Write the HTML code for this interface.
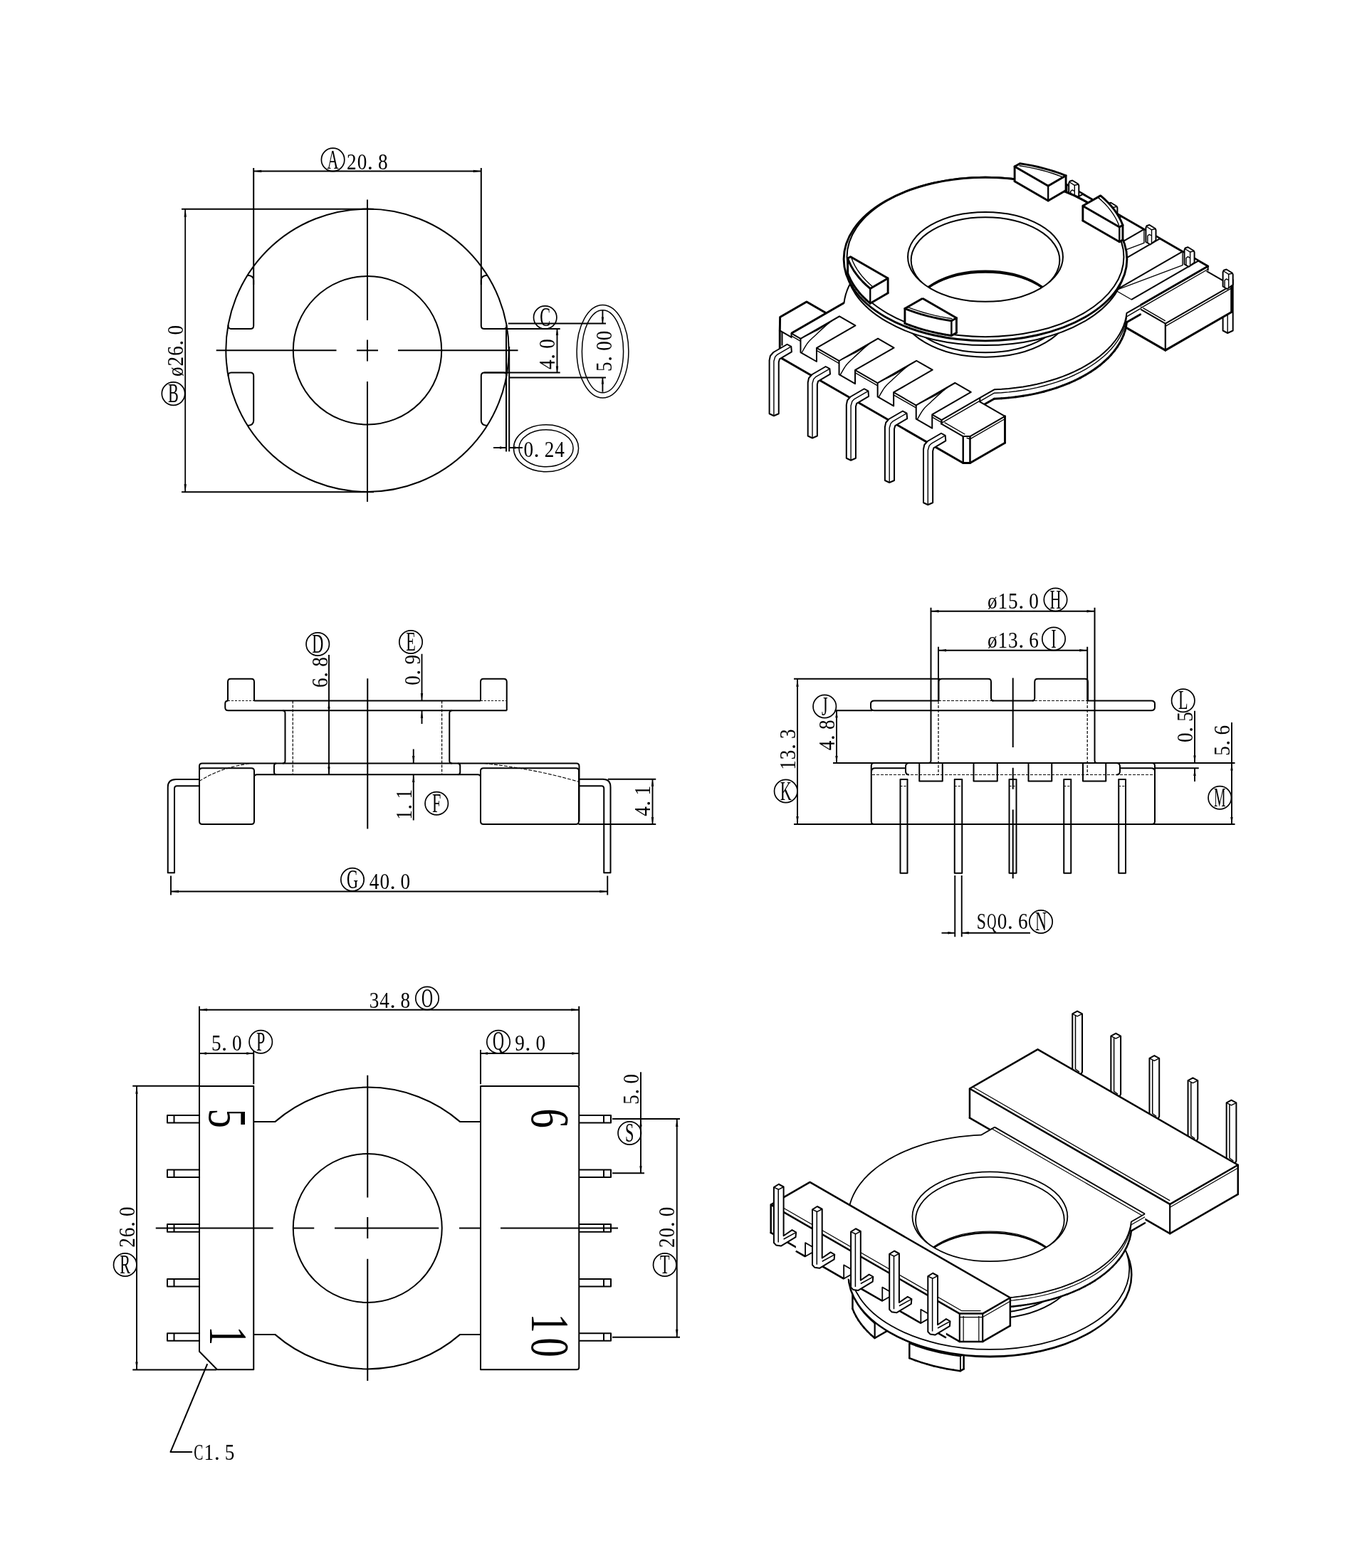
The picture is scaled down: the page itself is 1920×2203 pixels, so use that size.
<!DOCTYPE html>
<html lang="en"><head><meta charset="utf-8"><title>Bobbin drawing</title>
<style>
html,body{margin:0;padding:0;background:#fff}
body{width:1920px;height:2203px;overflow:hidden}
svg{display:block;filter:grayscale(1)}
svg *{vector-effect:none}
.g{fill:none;stroke:#000;stroke-linejoin:round;stroke-linecap:butt}
.t{font-family:"Liberation Serif",serif;fill:#000;stroke:none}
</style></head><body>
<svg width="1920" height="2203" viewBox="0 0 1920 2203">
<rect x="0" y="0" width="1920" height="2203" fill="#fff"/>
<g class="g">
<circle cx="516" cy="492.3" r="198.7" stroke-width="2.0"/>
<circle cx="516" cy="492.3" r="104.2" stroke-width="2.0"/>
<line x1="516" y1="280.5" x2="516" y2="450" stroke-width="2.0"/>
<line x1="516" y1="477.5" x2="516" y2="507.5" stroke-width="2.0"/>
<line x1="516" y1="536" x2="516" y2="705" stroke-width="2.0"/>
<line x1="303.7" y1="492.3" x2="472.5" y2="492.3" stroke-width="2.0"/>
<line x1="501" y1="492.3" x2="531" y2="492.3" stroke-width="2.0"/>
<line x1="559" y1="492.3" x2="727.5" y2="492.3" stroke-width="2.0"/>
<path d="M711.52 456.9 Q711.86 461.9 707.36 461.9 L680.3 461.9 Q675.8 461.9 675.8 457.4 L675.8 393.67 Q675.8 387.17 684.3 386.67" stroke-width="2.0"/>
<path d="M711.39 528.4 Q711.75 523.4 707.25 523.4 L680.3 523.4 Q675.8 523.4 675.8 527.9 L675.8 590.93 Q675.8 597.43 684.3 597.93" stroke-width="2.0"/>
<path d="M320.48 456.9 Q320.14 461.9 324.64 461.9 L351.7 461.9 Q356.2 461.9 356.2 457.4 L356.2 393.67 Q356.2 387.17 347.7 386.67" stroke-width="2.0"/>
<path d="M320.61 528.4 Q320.25 523.4 324.75 523.4 L351.7 523.4 Q356.2 523.4 356.2 527.9 L356.2 590.93 Q356.2 597.43 347.7 597.93" stroke-width="2.0"/>
<line x1="356.2" y1="236" x2="356.2" y2="400" stroke-width="2.0"/>
<line x1="675.8" y1="236" x2="675.8" y2="400" stroke-width="2.0"/>
<line x1="356.2" y1="240.5" x2="675.8" y2="240.5" stroke-width="1.9"/>
<polygon points="356.2,240.5 367.2,238.8 367.2,242.2" fill="#000" stroke="none"/>
<polygon points="675.8,240.5 664.8,242.2 664.8,238.8" fill="#000" stroke="none"/>
<circle cx="467.6" cy="224.4" r="16.2" stroke-width="1.7"/>
<text transform="translate(467.6 224.4) scale(0.6 1)" x="0" y="12.21" font-size="37" text-anchor="middle" class="t">A</text>
<text transform="translate(486.6 237.6)" y="0" font-size="32.5" class="t"><tspan x="0.5" textLength="13.6" lengthAdjust="spacingAndGlyphs">2</tspan><tspan x="15.1" textLength="13.6" lengthAdjust="spacingAndGlyphs">0</tspan><tspan x="29.2">.</tspan><tspan x="44.3" textLength="13.6" lengthAdjust="spacingAndGlyphs">8</tspan></text>
<line x1="255" y1="293.7" x2="525" y2="293.7" stroke-width="2.0"/>
<line x1="255" y1="691.2" x2="525" y2="691.2" stroke-width="2.0"/>
<line x1="260.2" y1="293.7" x2="260.2" y2="691.2" stroke-width="1.8"/>
<polygon points="260.2,293.7 261.9,304.7 258.5,304.7" fill="#000" stroke="none"/>
<polygon points="260.2,691.2 258.5,680.2 261.9,680.2" fill="#000" stroke="none"/>
<text transform="translate(257.2 529.5) rotate(-90)" y="0" font-size="32.5" class="t"><tspan x="0.5" textLength="13.6" lengthAdjust="spacingAndGlyphs">ø</tspan><tspan x="15.1" textLength="13.6" lengthAdjust="spacingAndGlyphs">2</tspan><tspan x="29.7" textLength="13.6" lengthAdjust="spacingAndGlyphs">6</tspan><tspan x="43.8">.</tspan><tspan x="58.9" textLength="13.6" lengthAdjust="spacingAndGlyphs">0</tspan></text>
<circle cx="243.5" cy="553.1" r="16.2" stroke-width="1.7"/>
<text transform="translate(243.5 553.1) scale(0.6 1)" x="0" y="12.21" font-size="37" text-anchor="middle" class="t">B</text>
<line x1="713.8" y1="454.4" x2="851" y2="454.4" stroke-width="2.0"/>
<line x1="715.5" y1="530.6" x2="851" y2="530.6" stroke-width="2.0"/>
<line x1="680" y1="461.9" x2="786.7" y2="461.9" stroke-width="2.0"/>
<line x1="680" y1="523.5" x2="786.7" y2="523.5" stroke-width="2.0"/>
<line x1="711" y1="461.9" x2="711" y2="634.4" stroke-width="2.0"/>
<line x1="715.2" y1="487" x2="715.2" y2="634.4" stroke-width="2.0"/>
<line x1="782.5" y1="461.9" x2="782.5" y2="523.5" stroke-width="1.9"/>
<polygon points="782.5,461.9 784.2,470.9 780.8,470.9" fill="#000" stroke="none"/>
<polygon points="782.5,523.5 780.8,514.5 784.2,514.5" fill="#000" stroke="none"/>
<text transform="translate(779.3 519.5) rotate(-90)" y="0" font-size="32.5" class="t"><tspan x="0.5" textLength="13.6" lengthAdjust="spacingAndGlyphs">4</tspan><tspan x="14.6">.</tspan><tspan x="29.7" textLength="13.6" lengthAdjust="spacingAndGlyphs">0</tspan></text>
<circle cx="765.7" cy="446" r="16.2" stroke-width="1.7"/>
<text transform="translate(765.7 446) scale(0.6 1)" x="0" y="12.21" font-size="37" text-anchor="middle" class="t">C</text>
<ellipse cx="846.5" cy="493.7" rx="36.4" ry="65.3" stroke-width="1.5"/>
<ellipse cx="846.5" cy="493.7" rx="29.1" ry="58" stroke-width="1.5"/>
<line x1="846.4" y1="436" x2="846.4" y2="454.4" stroke-width="1.9"/>
<line x1="846.4" y1="530.6" x2="846.4" y2="550.7" stroke-width="1.9"/>
<polygon points="846.4,454.4 844.7,445.4 848.1,445.4" fill="#000" stroke="none"/>
<polygon points="846.4,530.6 848.1,539.6 844.7,539.6" fill="#000" stroke="none"/>
<text transform="translate(858.6 522.5) rotate(-90)" y="0" font-size="32.5" class="t"><tspan x="0.5" textLength="13.6" lengthAdjust="spacingAndGlyphs">5</tspan><tspan x="14.6">.</tspan><tspan x="29.7" textLength="13.6" lengthAdjust="spacingAndGlyphs">0</tspan><tspan x="44.3" textLength="13.6" lengthAdjust="spacingAndGlyphs">0</tspan></text>
<ellipse cx="767" cy="629.8" rx="45.6" ry="33" stroke-width="1.5"/>
<ellipse cx="767" cy="629.8" rx="38.1" ry="26" stroke-width="1.5"/>
<line x1="693" y1="629" x2="711" y2="629" stroke-width="1.9"/>
<line x1="715.2" y1="629" x2="734" y2="629" stroke-width="1.9"/>
<polygon points="711,629 702,630.7 702,627.3" fill="#000" stroke="none"/>
<polygon points="715.2,629 724.2,627.3 724.2,630.7" fill="#000" stroke="none"/>
<text transform="translate(735 641.5)" y="0" font-size="32.5" class="t"><tspan x="0.5" textLength="13.6" lengthAdjust="spacingAndGlyphs">0</tspan><tspan x="14.6">.</tspan><tspan x="29.7" textLength="13.6" lengthAdjust="spacingAndGlyphs">2</tspan><tspan x="44.3" textLength="13.6" lengthAdjust="spacingAndGlyphs">4</tspan></text>
<path d="M320 984.5 L320 958 Q320 953.75 324 953.75 L353 953.75 Q357 953.75 357 958 L357 984.5" stroke-width="2.0"/>
<path d="M675 984.5 L675 958 Q675 953.75 679 953.75 L707.5 953.75 Q711.75 953.75 711.75 958 L711.75 998.25" stroke-width="2.0"/>
<line x1="320" y1="984.5" x2="357" y2="984.5" stroke-width="1.2" stroke-dasharray="3 2"/>
<line x1="675" y1="984.5" x2="711.75" y2="984.5" stroke-width="1.2" stroke-dasharray="3 2"/>
<line x1="357" y1="984.5" x2="675" y2="984.5" stroke-width="2.0"/>
<path d="M320.5 984.5 Q316.25 984.5 316.25 988.5 L316.25 994 Q316.25 998.25 320.5 998.25 L711.75 998.25" stroke-width="2.0"/>
<path d="M397 998.25 Q400.5 998.25 400.5 1002 L400.5 1069 Q400.5 1072.5 397 1072.5" stroke-width="2.0"/>
<path d="M635 998.25 Q631.25 998.25 631.25 1002 L631.25 1069 Q631.25 1072.5 635 1072.5" stroke-width="2.0"/>
<line x1="411.25" y1="984.5" x2="411.25" y2="1088.25" stroke-width="1.2" stroke-dasharray="4 2"/>
<line x1="620.6" y1="984.5" x2="620.6" y2="1088.25" stroke-width="1.2" stroke-dasharray="4 2"/>
<path d="M280 1082 L280 1076.5 Q280 1072.5 284 1072.5 L809.5 1072.5 Q813.5 1072.5 813.5 1076.5 L813.5 1154" stroke-width="2.0"/>
<path d="M388 1072.5 Q385 1072.5 385 1076 L385 1085 Q385 1088.25 388 1088.25" stroke-width="2.0"/>
<path d="M643 1072.5 Q646.25 1072.5 646.25 1076 L646.25 1085 Q646.25 1088.25 643 1088.25" stroke-width="2.0"/>
<path d="M357 1092 Q357 1088.25 361 1088.25 L671 1088.25 Q675 1088.25 675 1092" stroke-width="2.0"/>
<path d="M280 1083 Q280 1079.25 284 1079.25 L353 1079.25 Q357 1079.25 357 1083 L357 1154 Q357 1158 353 1158 L284 1158 Q280 1158 280 1154 Z" stroke-width="2.0"/>
<path d="M675 1083 Q675 1079.25 679 1079.25 L809 1079.25 Q813 1079.25 813 1083 L813 1154 Q813 1158 809 1158 L679 1158 Q675 1158 675 1154 Z" stroke-width="2.0"/>
<path d="M280 1097.5 Q310 1078 352.5 1072.5" stroke-width="1.1" stroke-dasharray="5 2"/>
<path d="M680 1072.5 Q750 1080 812.5 1098.25" stroke-width="1.1" stroke-dasharray="5 2"/>
<path d="M280 1095 L247 1095 Q235.75 1095 235.75 1106 L235.75 1226.25 L245 1226.25 L245 1108 Q245 1104.25 248.5 1104.25 L280 1104.25" stroke-width="2.0"/>
<path d="M813.5 1094.75 L847 1094.75 Q857.5 1094.75 857.5 1106 L857.5 1226.25 L848.25 1226.25 L848.25 1108 Q848.25 1104.25 845 1104.25 L813.5 1104.25" stroke-width="2.0"/>
<line x1="516.25" y1="953.25" x2="516.25" y2="1164.5" stroke-width="2.0"/>
<line x1="462" y1="920" x2="462" y2="1088" stroke-width="1.9"/>
<polygon points="462,985.5 463.7,995.5 460.3,995.5" fill="#000" stroke="none"/>
<polygon points="462,1087.5 460.3,1077.5 463.7,1077.5" fill="#000" stroke="none"/>
<text transform="translate(459.5 966.5) rotate(-90)" y="0" font-size="32.5" class="t"><tspan x="0.5" textLength="13.6" lengthAdjust="spacingAndGlyphs">6</tspan><tspan x="14.6">.</tspan><tspan x="29.7" textLength="13.6" lengthAdjust="spacingAndGlyphs">8</tspan></text>
<circle cx="446.25" cy="905" r="16.2" stroke-width="1.7"/>
<text transform="translate(446.25 905) scale(0.6 1)" x="0" y="12.21" font-size="37" text-anchor="middle" class="t">D</text>
<line x1="592.5" y1="918.75" x2="592.5" y2="984" stroke-width="1.9"/>
<line x1="592.5" y1="999" x2="592.5" y2="1017" stroke-width="1.9"/>
<polygon points="592.5,984 590.8,974 594.2,974" fill="#000" stroke="none"/>
<polygon points="592.5,999 594.2,1009 590.8,1009" fill="#000" stroke="none"/>
<text transform="translate(590 963.3) rotate(-90)" y="0" font-size="32.5" class="t"><tspan x="0.5" textLength="13.6" lengthAdjust="spacingAndGlyphs">0</tspan><tspan x="14.6">.</tspan><tspan x="29.7" textLength="13.6" lengthAdjust="spacingAndGlyphs">9</tspan></text>
<circle cx="577" cy="902" r="16.2" stroke-width="1.7"/>
<text transform="translate(577 902) scale(0.6 1)" x="0" y="12.21" font-size="37" text-anchor="middle" class="t">E</text>
<line x1="580.75" y1="1052.5" x2="580.75" y2="1072" stroke-width="1.9"/>
<line x1="580.75" y1="1089" x2="580.75" y2="1152.5" stroke-width="1.9"/>
<polygon points="580.75,1072 579.05,1062 582.45,1062" fill="#000" stroke="none"/>
<polygon points="580.75,1089 582.45,1099 579.05,1099" fill="#000" stroke="none"/>
<text transform="translate(578.25 1152.3) rotate(-90)" y="0" font-size="32.5" class="t"><tspan x="0.5" textLength="13.6" lengthAdjust="spacingAndGlyphs">1</tspan><tspan x="14.6">.</tspan><tspan x="29.7" textLength="13.6" lengthAdjust="spacingAndGlyphs">1</tspan></text>
<circle cx="613.25" cy="1128.75" r="16.2" stroke-width="1.7"/>
<text transform="translate(613.25 1128.75) scale(0.6 1)" x="0" y="12.21" font-size="37" text-anchor="middle" class="t">F</text>
<line x1="853.75" y1="1094.75" x2="921.25" y2="1094.75" stroke-width="1.9"/>
<line x1="812.5" y1="1158" x2="921.25" y2="1158" stroke-width="1.9"/>
<line x1="916.5" y1="1094.75" x2="916.5" y2="1158" stroke-width="1.9"/>
<polygon points="916.5,1094.75 918.2,1104.75 914.8,1104.75" fill="#000" stroke="none"/>
<polygon points="916.5,1158 914.8,1148 918.2,1148" fill="#000" stroke="none"/>
<text transform="translate(913.25 1147.3) rotate(-90)" y="0" font-size="32.5" class="t"><tspan x="0.5" textLength="13.6" lengthAdjust="spacingAndGlyphs">4</tspan><tspan x="14.6">.</tspan><tspan x="29.7" textLength="13.6" lengthAdjust="spacingAndGlyphs">1</tspan></text>
<line x1="240" y1="1230.5" x2="240" y2="1257.5" stroke-width="1.9"/>
<line x1="853.25" y1="1230.5" x2="853.25" y2="1257.5" stroke-width="1.9"/>
<line x1="240" y1="1252.5" x2="853.25" y2="1252.5" stroke-width="1.9"/>
<polygon points="240,1252.5 251,1250.8 251,1254.2" fill="#000" stroke="none"/>
<polygon points="853.25,1252.5 842.25,1254.2 842.25,1250.8" fill="#000" stroke="none"/>
<circle cx="495" cy="1235.75" r="16.2" stroke-width="1.7"/>
<text transform="translate(495 1235.75) scale(0.6 1)" x="0" y="12.21" font-size="37" text-anchor="middle" class="t">G</text>
<text transform="translate(518.3 1249.25)" y="0" font-size="32.5" class="t"><tspan x="0.5" textLength="13.6" lengthAdjust="spacingAndGlyphs">4</tspan><tspan x="15.1" textLength="13.6" lengthAdjust="spacingAndGlyphs">0</tspan><tspan x="29.2">.</tspan><tspan x="44.3" textLength="13.6" lengthAdjust="spacingAndGlyphs">0</tspan></text>
<path d="M1307.5 853.75 L1307.5 1068.5 Q1307.5 1072 1304 1072" stroke-width="2.0"/>
<path d="M1537.5 853.75 L1537.5 1068.5 Q1537.5 1072 1541 1072" stroke-width="2.0"/>
<line x1="1318" y1="908.75" x2="1318" y2="985" stroke-width="2.0"/>
<line x1="1527.2" y1="908.75" x2="1527.2" y2="985" stroke-width="2.0"/>
<line x1="1318" y1="985" x2="1318" y2="1088.5" stroke-width="1.2" stroke-dasharray="4 2"/>
<line x1="1527.2" y1="985" x2="1527.2" y2="1088.5" stroke-width="1.2" stroke-dasharray="4 2"/>
<line x1="1307.5" y1="858.75" x2="1537.5" y2="858.75" stroke-width="1.9"/>
<polygon points="1307.5,858.75 1318.5,857.05 1318.5,860.45" fill="#000" stroke="none"/>
<polygon points="1537.5,858.75 1526.5,860.45 1526.5,857.05" fill="#000" stroke="none"/>
<text transform="translate(1386.4 855)" y="0" font-size="32.5" class="t"><tspan x="0.5" textLength="13.6" lengthAdjust="spacingAndGlyphs">ø</tspan><tspan x="15.1" textLength="13.6" lengthAdjust="spacingAndGlyphs">1</tspan><tspan x="29.7" textLength="13.6" lengthAdjust="spacingAndGlyphs">5</tspan><tspan x="43.8">.</tspan><tspan x="58.9" textLength="13.6" lengthAdjust="spacingAndGlyphs">0</tspan></text>
<circle cx="1482.5" cy="842.5" r="16.2" stroke-width="1.7"/>
<text transform="translate(1482.5 842.5) scale(0.6 1)" x="0" y="12.21" font-size="37" text-anchor="middle" class="t">H</text>
<line x1="1318" y1="913.75" x2="1527.2" y2="913.75" stroke-width="1.9"/>
<polygon points="1318,913.75 1329,912.05 1329,915.45" fill="#000" stroke="none"/>
<polygon points="1527.2,913.75 1516.2,915.45 1516.2,912.05" fill="#000" stroke="none"/>
<text transform="translate(1386.4 910)" y="0" font-size="32.5" class="t"><tspan x="0.5" textLength="13.6" lengthAdjust="spacingAndGlyphs">ø</tspan><tspan x="15.1" textLength="13.6" lengthAdjust="spacingAndGlyphs">1</tspan><tspan x="29.7" textLength="13.6" lengthAdjust="spacingAndGlyphs">3</tspan><tspan x="43.8">.</tspan><tspan x="58.9" textLength="13.6" lengthAdjust="spacingAndGlyphs">6</tspan></text>
<circle cx="1480" cy="897.5" r="16.2" stroke-width="1.7"/>
<text transform="translate(1480 897.5) scale(0.6 1)" x="0" y="12.21" font-size="37" text-anchor="middle" class="t">I</text>
<path d="M1318.5 985 L1318.5 958 Q1318.5 953.75 1323 953.75 L1388 953.75 Q1392 953.75 1392 958 L1392 980.5 Q1392 984.5 1395.5 984.5" stroke-width="2.0"/>
<path d="M1450 984.5 Q1453.25 984.5 1453.25 980.5 L1453.25 958 Q1453.25 953.75 1457.5 953.75 L1524 953.75 Q1528 953.75 1528 958 L1528 985" stroke-width="2.0"/>
<path d="M1228 984.5 Q1223 984.5 1223 989 L1223 993.5 Q1223 998.25 1228 998.25 L1617 998.25 Q1622 998.25 1622 993.5 L1622 989 Q1622 984.5 1617 984.5" stroke-width="2.0"/>
<line x1="1228" y1="984.5" x2="1318" y2="984.5" stroke-width="2.0"/>
<line x1="1393" y1="984.5" x2="1452" y2="984.5" stroke-width="2.0"/>
<line x1="1528" y1="984.5" x2="1617" y2="984.5" stroke-width="2.0"/>
<line x1="1318" y1="984.5" x2="1393" y2="984.5" stroke-width="1.2" stroke-dasharray="4 2"/>
<line x1="1453" y1="984.5" x2="1528" y2="984.5" stroke-width="1.2" stroke-dasharray="4 2"/>
<line x1="1115" y1="953.75" x2="1320" y2="953.75" stroke-width="2.0"/>
<line x1="1115" y1="1158" x2="1734.5" y2="1158" stroke-width="2.0"/>
<line x1="1120" y1="953.75" x2="1120" y2="1158" stroke-width="1.9"/>
<polygon points="1120,953.75 1121.7,964.75 1118.3,964.75" fill="#000" stroke="none"/>
<polygon points="1120,1158 1118.3,1147 1121.7,1147" fill="#000" stroke="none"/>
<text transform="translate(1117 1082.3) rotate(-90)" y="0" font-size="32.5" class="t"><tspan x="0.5" textLength="13.6" lengthAdjust="spacingAndGlyphs">1</tspan><tspan x="15.1" textLength="13.6" lengthAdjust="spacingAndGlyphs">3</tspan><tspan x="29.2">.</tspan><tspan x="44.3" textLength="13.6" lengthAdjust="spacingAndGlyphs">3</tspan></text>
<circle cx="1103.75" cy="1111.5" r="16.2" stroke-width="1.7"/>
<text transform="translate(1103.75 1111.5) scale(0.6 1)" x="0" y="12.21" font-size="37" text-anchor="middle" class="t">K</text>
<line x1="1172.5" y1="998.25" x2="1225" y2="998.25" stroke-width="2.0"/>
<line x1="1170" y1="1072" x2="1734.5" y2="1072" stroke-width="2.0"/>
<line x1="1175" y1="998.25" x2="1175" y2="1072" stroke-width="1.9"/>
<polygon points="1175,998.25 1176.7,1008.25 1173.3,1008.25" fill="#000" stroke="none"/>
<polygon points="1175,1072 1173.3,1062 1176.7,1062" fill="#000" stroke="none"/>
<text transform="translate(1172 1054.8) rotate(-90)" y="0" font-size="32.5" class="t"><tspan x="0.5" textLength="13.6" lengthAdjust="spacingAndGlyphs">4</tspan><tspan x="14.6">.</tspan><tspan x="29.7" textLength="13.6" lengthAdjust="spacingAndGlyphs">8</tspan></text>
<circle cx="1158.25" cy="992.5" r="16.2" stroke-width="1.7"/>
<text transform="translate(1158.25 992.5) scale(0.6 1)" x="0" y="12.21" font-size="37" text-anchor="middle" class="t">J</text>
<line x1="1422.7" y1="952.5" x2="1422.7" y2="1050" stroke-width="2.0"/>
<line x1="1422.7" y1="1078.75" x2="1422.7" y2="1108.75" stroke-width="2.0"/>
<line x1="1422.7" y1="1137.5" x2="1422.7" y2="1234.25" stroke-width="2.0"/>
<path d="M1227.5 1072 Q1223.75 1072 1223.75 1076 L1223.75 1154 Q1223.75 1158 1227.5 1158" stroke-width="2.0"/>
<path d="M1618 1072 Q1622 1072 1622 1076 L1622 1154 Q1622 1158 1618 1158" stroke-width="2.0"/>
<path d="M1224 1084 Q1224 1079.25 1229 1079.25 L1272.5 1079.25" stroke-width="2.0"/>
<path d="M1622 1084 Q1622 1079.25 1617 1079.25 L1572.5 1079.25" stroke-width="2.0"/>
<line x1="1622" y1="1079.25" x2="1683.75" y2="1079.25" stroke-width="2.0"/>
<path d="M1277 1072 Q1272 1072 1272 1077 L1272 1083.5 Q1272 1088.5 1277 1088.5" stroke-width="2.0"/>
<path d="M1568 1072 Q1573 1072 1573 1077 L1573 1083.5 Q1573 1088.5 1568 1088.5" stroke-width="2.0"/>
<line x1="1225" y1="1088.5" x2="1621" y2="1088.5" stroke-width="1.2" stroke-dasharray="4 2"/>
<polyline points="1291.25,1072 1291.25,1097.5 1323.75,1097.5 1323.75,1072" stroke-width="2.0"/>
<polyline points="1367.5,1072 1367.5,1097.5 1400.75,1097.5 1400.75,1072" stroke-width="2.0"/>
<polyline points="1444.5,1072 1444.5,1097.5 1477.25,1097.5 1477.25,1072" stroke-width="2.0"/>
<polyline points="1521,1072 1521,1097.5 1553.25,1097.5 1553.25,1072" stroke-width="2.0"/>
<polygon points="1264.5,1095 1274.5,1095 1274.5,1226.75 1264.5,1226.75" stroke-width="2.0"/>
<line x1="1264.5" y1="1104.5" x2="1274.5" y2="1104.5" stroke-width="1.0" stroke-dasharray="3 2"/>
<polygon points="1340.75,1095 1351.25,1095 1351.25,1226.75 1340.75,1226.75" stroke-width="2.0"/>
<line x1="1340.75" y1="1104.5" x2="1351.25" y2="1104.5" stroke-width="1.0" stroke-dasharray="3 2"/>
<polygon points="1417.5,1095 1427.5,1095 1427.5,1226.75 1417.5,1226.75" stroke-width="2.0"/>
<line x1="1417.5" y1="1104.5" x2="1427.5" y2="1104.5" stroke-width="1.0" stroke-dasharray="3 2"/>
<polygon points="1494.25,1095 1504.25,1095 1504.25,1226.75 1494.25,1226.75" stroke-width="2.0"/>
<line x1="1494.25" y1="1104.5" x2="1504.25" y2="1104.5" stroke-width="1.0" stroke-dasharray="3 2"/>
<polygon points="1571.25,1095 1581,1095 1581,1226.75 1571.25,1226.75" stroke-width="2.0"/>
<line x1="1571.25" y1="1104.5" x2="1581" y2="1104.5" stroke-width="1.0" stroke-dasharray="3 2"/>
<line x1="1678" y1="998.75" x2="1678" y2="1071" stroke-width="1.9"/>
<line x1="1678" y1="1080" x2="1678" y2="1098" stroke-width="1.9"/>
<polygon points="1678,1071.5 1676.3,1061.5 1679.7,1061.5" fill="#000" stroke="none"/>
<polygon points="1678,1080 1679.7,1090 1676.3,1090" fill="#000" stroke="none"/>
<text transform="translate(1675 1043.5) rotate(-90)" y="0" font-size="32.5" class="t"><tspan x="0.5" textLength="13.6" lengthAdjust="spacingAndGlyphs">0</tspan><tspan x="14.6">.</tspan><tspan x="29.7" textLength="13.6" lengthAdjust="spacingAndGlyphs">5</tspan></text>
<circle cx="1661.75" cy="984.25" r="16.2" stroke-width="1.7"/>
<text transform="translate(1661.75 984.25) scale(0.6 1)" x="0" y="12.21" font-size="37" text-anchor="middle" class="t">L</text>
<line x1="1730" y1="1015" x2="1730" y2="1158" stroke-width="1.9"/>
<polygon points="1730,1072.5 1731.7,1082.5 1728.3,1082.5" fill="#000" stroke="none"/>
<polygon points="1730,1158 1728.3,1148 1731.7,1148" fill="#000" stroke="none"/>
<text transform="translate(1726.75 1062.3) rotate(-90)" y="0" font-size="32.5" class="t"><tspan x="0.5" textLength="13.6" lengthAdjust="spacingAndGlyphs">5</tspan><tspan x="14.6">.</tspan><tspan x="29.7" textLength="13.6" lengthAdjust="spacingAndGlyphs">6</tspan></text>
<circle cx="1713.25" cy="1120.75" r="16.2" stroke-width="1.7"/>
<text transform="translate(1713.25 1120.75) scale(0.5 1)" x="0" y="12.21" font-size="37" text-anchor="middle" class="t">M</text>
<line x1="1341.25" y1="1230" x2="1341.25" y2="1316.25" stroke-width="1.9"/>
<line x1="1350.75" y1="1230" x2="1350.75" y2="1316.25" stroke-width="1.9"/>
<line x1="1322.5" y1="1310.75" x2="1341.25" y2="1310.75" stroke-width="1.9"/>
<line x1="1350.75" y1="1310.75" x2="1447" y2="1310.75" stroke-width="1.9"/>
<polygon points="1341.25,1310.75 1331.25,1312.45 1331.25,1309.05" fill="#000" stroke="none"/>
<polygon points="1350.75,1310.75 1360.75,1309.05 1360.75,1312.45" fill="#000" stroke="none"/>
<text transform="translate(1371 1305)" y="0" font-size="32.5" class="t"><tspan x="0.7" textLength="13.2" lengthAdjust="spacingAndGlyphs">S</tspan><tspan x="15.3" textLength="13.2" lengthAdjust="spacingAndGlyphs">Q</tspan><tspan x="29.7" textLength="13.6" lengthAdjust="spacingAndGlyphs">0</tspan><tspan x="43.8">.</tspan><tspan x="58.9" textLength="13.6" lengthAdjust="spacingAndGlyphs">6</tspan></text>
<circle cx="1462" cy="1295" r="16.2" stroke-width="1.7"/>
<text transform="translate(1462 1295) scale(0.6 1)" x="0" y="12.21" font-size="37" text-anchor="middle" class="t">N</text>
<circle cx="516.25" cy="1725.5" r="104.5" stroke-width="2.0"/>
<path d="M356.25 1576.12 L386.25 1576.12 A198.4 198.4 0 0 1 646.25 1576.12 L675 1576.12" stroke-width="2.0"/>
<path d="M356.25 1874.88 L386.25 1874.88 A198.4 198.4 0 0 0 646.25 1874.88 L675 1874.88" stroke-width="2.0"/>
<path d="M280 1526 L356.25 1526 L356.25 1924.25 L305 1924.25 L280 1898.75 Z" stroke-width="2.0"/>
<path d="M675 1526 L810 1526 Q813.25 1526 813.25 1529 L813.25 1921 Q813.25 1924.25 810 1924.25 L675 1924.25 Z" stroke-width="2.0"/>
<polyline points="280,1566.95 235,1566.95 235,1577.55 280,1577.55" stroke-width="2.0"/>
<line x1="244.5" y1="1566.95" x2="244.5" y2="1577.55" stroke-width="2.0"/>
<polyline points="813.25,1566.95 858,1566.95 858,1577.55 813.25,1577.55" stroke-width="2.0"/>
<line x1="848" y1="1566.95" x2="848" y2="1577.55" stroke-width="2.0"/>
<polyline points="280,1643.45 235,1643.45 235,1654.05 280,1654.05" stroke-width="2.0"/>
<line x1="244.5" y1="1643.45" x2="244.5" y2="1654.05" stroke-width="2.0"/>
<polyline points="813.25,1643.45 858,1643.45 858,1654.05 813.25,1654.05" stroke-width="2.0"/>
<line x1="848" y1="1643.45" x2="848" y2="1654.05" stroke-width="2.0"/>
<polyline points="280,1720.1 235,1720.1 235,1730.7 280,1730.7" stroke-width="2.0"/>
<line x1="244.5" y1="1720.1" x2="244.5" y2="1730.7" stroke-width="2.0"/>
<polyline points="813.25,1720.1 858,1720.1 858,1730.7 813.25,1730.7" stroke-width="2.0"/>
<line x1="848" y1="1720.1" x2="848" y2="1730.7" stroke-width="2.0"/>
<polyline points="280,1796.95 235,1796.95 235,1807.55 280,1807.55" stroke-width="2.0"/>
<line x1="244.5" y1="1796.95" x2="244.5" y2="1807.55" stroke-width="2.0"/>
<polyline points="813.25,1796.95 858,1796.95 858,1807.55 813.25,1807.55" stroke-width="2.0"/>
<line x1="848" y1="1796.95" x2="848" y2="1807.55" stroke-width="2.0"/>
<polyline points="280,1873.2 235,1873.2 235,1883.8 280,1883.8" stroke-width="2.0"/>
<line x1="244.5" y1="1873.2" x2="244.5" y2="1883.8" stroke-width="2.0"/>
<polyline points="813.25,1873.2 858,1873.2 858,1883.8 813.25,1883.8" stroke-width="2.0"/>
<line x1="848" y1="1873.2" x2="848" y2="1883.8" stroke-width="2.0"/>
<line x1="516.25" y1="1510.75" x2="516.25" y2="1682.5" stroke-width="2.0"/>
<line x1="516.25" y1="1710" x2="516.25" y2="1740" stroke-width="2.0"/>
<line x1="516.25" y1="1768.75" x2="516.25" y2="1940" stroke-width="2.0"/>
<line x1="218.75" y1="1725.5" x2="383.75" y2="1725.5" stroke-width="2.0"/>
<line x1="411.25" y1="1725.5" x2="441.25" y2="1725.5" stroke-width="2.0"/>
<line x1="470" y1="1725.5" x2="616.25" y2="1725.5" stroke-width="2.0"/>
<line x1="645" y1="1725.5" x2="675" y2="1725.5" stroke-width="2.0"/>
<line x1="703" y1="1725.5" x2="868" y2="1725.5" stroke-width="2.0"/>
<line x1="280" y1="1413.75" x2="280" y2="1526" stroke-width="2.0"/>
<line x1="813.25" y1="1413.75" x2="813.25" y2="1526" stroke-width="2.0"/>
<line x1="280" y1="1418.75" x2="813.25" y2="1418.75" stroke-width="1.9"/>
<polygon points="280,1418.75 291,1417.05 291,1420.45" fill="#000" stroke="none"/>
<polygon points="813.25,1418.75 802.25,1420.45 802.25,1417.05" fill="#000" stroke="none"/>
<text transform="translate(518.2 1415.75)" y="0" font-size="32.5" class="t"><tspan x="0.5" textLength="13.6" lengthAdjust="spacingAndGlyphs">3</tspan><tspan x="15.1" textLength="13.6" lengthAdjust="spacingAndGlyphs">4</tspan><tspan x="29.2">.</tspan><tspan x="44.3" textLength="13.6" lengthAdjust="spacingAndGlyphs">8</tspan></text>
<circle cx="600" cy="1402.5" r="16.2" stroke-width="1.7"/>
<text transform="translate(600 1402.5) scale(0.6 1)" x="0" y="12.21" font-size="37" text-anchor="middle" class="t">O</text>
<line x1="280" y1="1480" x2="356.25" y2="1480" stroke-width="1.9"/>
<polygon points="280,1480 290,1478.3 290,1481.7" fill="#000" stroke="none"/>
<polygon points="356.25,1480 346.25,1481.7 346.25,1478.3" fill="#000" stroke="none"/>
<line x1="356.25" y1="1476.25" x2="356.25" y2="1523.25" stroke-width="2.0"/>
<text transform="translate(296.4 1476.25)" y="0" font-size="32.5" class="t"><tspan x="0.5" textLength="13.6" lengthAdjust="spacingAndGlyphs">5</tspan><tspan x="14.6">.</tspan><tspan x="29.7" textLength="13.6" lengthAdjust="spacingAndGlyphs">0</tspan></text>
<circle cx="366.25" cy="1463.75" r="16.2" stroke-width="1.7"/>
<text transform="translate(366.25 1463.75) scale(0.6 1)" x="0" y="12.21" font-size="37" text-anchor="middle" class="t">P</text>
<line x1="675" y1="1475" x2="675" y2="1523.25" stroke-width="2.0"/>
<line x1="675" y1="1480" x2="813.25" y2="1480" stroke-width="1.9"/>
<polygon points="675,1480 685,1478.3 685,1481.7" fill="#000" stroke="none"/>
<polygon points="813.25,1480 803.25,1481.7 803.25,1478.3" fill="#000" stroke="none"/>
<circle cx="700" cy="1463.75" r="16.2" stroke-width="1.7"/>
<text transform="translate(700 1463.75) scale(0.6 1)" x="0" y="11" font-size="37" text-anchor="middle" class="t">Q</text>
<text transform="translate(722.7 1476.25)" y="0" font-size="32.5" class="t"><tspan x="0.5" textLength="13.6" lengthAdjust="spacingAndGlyphs">9</tspan><tspan x="14.6">.</tspan><tspan x="29.7" textLength="13.6" lengthAdjust="spacingAndGlyphs">0</tspan></text>
<line x1="186.25" y1="1525.75" x2="280" y2="1525.75" stroke-width="2.0"/>
<line x1="186.25" y1="1924.5" x2="304" y2="1924.5" stroke-width="2.0"/>
<line x1="192" y1="1525.75" x2="192" y2="1924.5" stroke-width="1.9"/>
<polygon points="192,1525.75 193.7,1536.75 190.3,1536.75" fill="#000" stroke="none"/>
<polygon points="192,1924.5 190.3,1913.5 193.7,1913.5" fill="#000" stroke="none"/>
<text transform="translate(188.75 1753.3) rotate(-90)" y="0" font-size="32.5" class="t"><tspan x="0.5" textLength="13.6" lengthAdjust="spacingAndGlyphs">2</tspan><tspan x="15.1" textLength="13.6" lengthAdjust="spacingAndGlyphs">6</tspan><tspan x="29.2">.</tspan><tspan x="44.3" textLength="13.6" lengthAdjust="spacingAndGlyphs">0</tspan></text>
<circle cx="175.75" cy="1777" r="16.2" stroke-width="1.7"/>
<text transform="translate(175.75 1777) scale(0.6 1)" x="0" y="12.21" font-size="37" text-anchor="middle" class="t">R</text>
<line x1="860" y1="1572" x2="955" y2="1572" stroke-width="2.0"/>
<line x1="860" y1="1648.25" x2="905" y2="1648.25" stroke-width="2.0"/>
<line x1="900" y1="1506.25" x2="900" y2="1648.25" stroke-width="1.9"/>
<polygon points="900,1572.5 901.7,1582.5 898.3,1582.5" fill="#000" stroke="none"/>
<polygon points="900,1648.25 898.3,1638.25 901.7,1638.25" fill="#000" stroke="none"/>
<text transform="translate(897 1552.3) rotate(-90)" y="0" font-size="32.5" class="t"><tspan x="0.5" textLength="13.6" lengthAdjust="spacingAndGlyphs">5</tspan><tspan x="14.6">.</tspan><tspan x="29.7" textLength="13.6" lengthAdjust="spacingAndGlyphs">0</tspan></text>
<circle cx="884.25" cy="1592" r="16.2" stroke-width="1.7"/>
<text transform="translate(884.25 1592) scale(0.6 1)" x="0" y="12.21" font-size="37" text-anchor="middle" class="t">S</text>
<line x1="860" y1="1878.75" x2="955" y2="1878.75" stroke-width="2.0"/>
<line x1="950.75" y1="1572" x2="950.75" y2="1878.75" stroke-width="1.9"/>
<polygon points="950.75,1572 952.45,1583 949.05,1583" fill="#000" stroke="none"/>
<polygon points="950.75,1878.75 949.05,1867.75 952.45,1867.75" fill="#000" stroke="none"/>
<text transform="translate(947 1753.5) rotate(-90)" y="0" font-size="32.5" class="t"><tspan x="0.5" textLength="13.6" lengthAdjust="spacingAndGlyphs">2</tspan><tspan x="15.1" textLength="13.6" lengthAdjust="spacingAndGlyphs">0</tspan><tspan x="29.2">.</tspan><tspan x="44.3" textLength="13.6" lengthAdjust="spacingAndGlyphs">0</tspan></text>
<circle cx="933.75" cy="1777" r="16.2" stroke-width="1.7"/>
<text transform="translate(933.75 1777) scale(0.6 1)" x="0" y="12.21" font-size="37" text-anchor="middle" class="t">T</text>
<text transform="translate(293.5 1557.5) rotate(90) scale(0.72 1)" x="0" y="0" font-size="76" class="t">5</text>
<text transform="translate(746.5 1557.5) rotate(90) scale(0.72 1)" x="0" y="0" font-size="76" class="t">6</text>
<text transform="translate(294.5 1863) rotate(90) scale(0.72 1)" x="0" y="0" font-size="76" class="t">1</text>
<text transform="translate(747 1845.5) rotate(90) scale(0.72 1)" x="0" y="0" font-size="76" class="t"><tspan x="0">1</tspan><tspan x="47.22">0</tspan></text>
<polyline points="291.25,1916.25 239.5,2040 270,2040" stroke-width="2.0"/>
<text transform="translate(271.5 2051.25)" y="0" font-size="32.5" class="t"><tspan x="0.7" textLength="13.2" lengthAdjust="spacingAndGlyphs">C</tspan><tspan x="15.1" textLength="13.6" lengthAdjust="spacingAndGlyphs">1</tspan><tspan x="29.2">.</tspan><tspan x="44.3" textLength="13.6" lengthAdjust="spacingAndGlyphs">5</tspan></text>
<polyline points="1717.6,392.5 1717.6,464.5 1724.2,468 1731.7,464.5 1731.7,392.5" stroke-width="2.0" fill="#fff"/>
<polyline points="1724.2,402.5 1724.2,468" stroke-width="1.4"/>
<polygon points="1355.55,292.25 1636.83,454.66 1636.83,492.13 1355.55,329.73" fill="#fff" stroke="#fff" stroke-width="0.6"/>
<polygon points="1636.83,454.66 1729.66,401.06 1729.66,438.54 1636.83,492.13" fill="#fff" stroke="#fff" stroke-width="0.6"/>
<line x1="1355.55" y1="329.73" x2="1636.83" y2="492.13" stroke-width="2.9" stroke-linecap="round"/>
<line x1="1355.55" y1="292.25" x2="1355.55" y2="329.73" stroke-width="2.9" stroke-linecap="round"/>
<line x1="1636.83" y1="454.66" x2="1636.83" y2="492.13" stroke-width="2.0" stroke-linecap="round"/>
<line x1="1636.83" y1="492.13" x2="1729.66" y2="438.54" stroke-width="2.9" stroke-linecap="round"/>
<line x1="1636.83" y1="454.66" x2="1636.83" y2="492.13" stroke-width="2.0" stroke-linecap="round"/>
<line x1="1729.66" y1="401.06" x2="1729.66" y2="438.54" stroke-width="2.9" stroke-linecap="round"/>
<polygon points="1355.55,292.25 1636.83,454.66 1729.66,401.06 1448.37,238.66" fill="#fff" stroke="none"/>
<polyline points="1355.55,292.25 1636.83,454.66 1729.66,401.06 1448.37,238.66 1355.55,292.25" stroke-width="2.0"/>
<polyline points="1604.92,432.48 1636.83,450.91" stroke-width="1.4"/>
<polyline points="1636.83,458.4 1729.66,404.81" stroke-width="1.4"/>
<polygon points="1601.67,428.86 1696.66,374.02 1696.66,379.51 1601.67,434.36" fill="#fff" stroke="#fff" stroke-width="0.6"/>
<line x1="1601.67" y1="428.86" x2="1601.67" y2="434.36" stroke-width="2.0" stroke-linecap="round"/>
<line x1="1696.66" y1="374.02" x2="1696.66" y2="379.51" stroke-width="2.0" stroke-linecap="round"/>
<polygon points="1390.71,307.06 1601.67,428.86 1696.66,374.02 1485.7,252.22" fill="#fff" stroke="none"/>
<polyline points="1601.67,428.86 1696.66,374.02 1485.7,252.22 1390.71,307.06" stroke-width="2.9"/>
<polyline points="1601.67,433.11 1696.66,378.26" stroke-width="1.4"/>
<polygon points="1498.68,259.71 1404.01,314.37 1426.52,327.36 1521.18,272.7" stroke-width="2.0" fill="#fff"/>
<polyline points="1498.68,259.71 1498.68,278.95 1404.01,314.37" stroke-width="1.4"/>
<polygon points="1552.77,290.94 1458.11,345.6 1480.61,358.59 1575.28,303.93" stroke-width="2.0" fill="#fff"/>
<polyline points="1552.77,290.94 1552.77,310.18 1458.11,345.6" stroke-width="1.4"/>
<polygon points="1606.87,322.17 1512.2,376.83 1534.71,389.82 1629.37,335.17" stroke-width="2.0" fill="#fff"/>
<polyline points="1606.87,322.17 1606.87,341.41 1512.2,376.83" stroke-width="1.4"/>
<polygon points="1660.96,353.4 1566.3,408.06 1588.8,421.05 1683.46,366.4" stroke-width="2.0" fill="#fff"/>
<polyline points="1660.96,353.4 1660.96,372.64 1566.3,408.06" stroke-width="1.4"/>
<polygon points="1501.2,257.5 1502.4,254.75 1506.2,253.5 1514.3,258.5 1515.3,260.6 1515.3,275 1507.4,281 1501.2,277.5" stroke-width="2.0" fill="#fff"/>
<polyline points="1503.7,279.5 1503.7,268.75 1506.2,266.9 1509.3,268.75 1509.3,279" stroke-width="1.4"/>
<polyline points="1502.4,256 1509.3,260.3 1514.8,259" stroke-width="1.4"/>
<polyline points="1509.3,260.3 1509.3,268.75" stroke-width="1.4"/>
<polygon points="1555.3,288.75 1556.5,286 1560.3,284.75 1568.4,289.75 1569.4,291.85 1569.4,306.25 1561.5,312.25 1555.3,308.75" stroke-width="2.0" fill="#fff"/>
<polyline points="1557.8,310.75 1557.8,300 1560.3,298.15 1563.4,300 1563.4,310.25" stroke-width="1.4"/>
<polyline points="1556.5,287.25 1563.4,291.55 1568.9,290.25" stroke-width="1.4"/>
<polyline points="1563.4,291.55 1563.4,300" stroke-width="1.4"/>
<polygon points="1609.4,320 1610.6,317.25 1614.4,316 1622.5,321 1623.5,323.1 1623.5,337.5 1615.6,343.5 1609.4,340" stroke-width="2.0" fill="#fff"/>
<polyline points="1611.9,342 1611.9,331.25 1614.4,329.4 1617.5,331.25 1617.5,341.5" stroke-width="1.4"/>
<polyline points="1610.6,318.5 1617.5,322.8 1623,321.5" stroke-width="1.4"/>
<polyline points="1617.5,322.8 1617.5,331.25" stroke-width="1.4"/>
<polygon points="1663.5,351.25 1664.7,348.5 1668.5,347.25 1676.6,352.25 1677.6,354.35 1677.6,368.75 1669.7,374.75 1663.5,371.25" stroke-width="2.0" fill="#fff"/>
<polyline points="1666,373.25 1666,362.5 1668.5,360.65 1671.6,362.5 1671.6,372.75" stroke-width="1.4"/>
<polyline points="1664.7,349.75 1671.6,354.05 1677.1,352.75" stroke-width="1.4"/>
<polyline points="1671.6,354.05 1671.6,362.5" stroke-width="1.4"/>
<polygon points="1717.6,382.5 1718.8,379.75 1722.6,378.5 1730.7,383.5 1731.7,385.6 1731.7,400 1723.8,406 1717.6,402.5" stroke-width="2.0" fill="#fff"/>
<polyline points="1720.1,404.5 1720.1,393.75 1722.6,391.9 1725.7,393.75 1725.7,404" stroke-width="1.4"/>
<polyline points="1718.8,381 1725.7,385.3 1731.2,384" stroke-width="1.4"/>
<polyline points="1725.7,385.3 1725.7,393.75" stroke-width="1.4"/>
<polygon points="1582.51,439.92 1601.67,428.86 1601.67,441.73 1582.51,452.79" fill="#fff" stroke="#fff" stroke-width="0.6"/>
<polygon points="1581.6,445.83 1582.51,439.92 1582.51,452.79 1581.6,458.69" fill="#fff" stroke="#fff" stroke-width="0.6"/>
<polygon points="1580.17,451.7 1581.6,445.83 1581.6,458.69 1580.17,464.56" fill="#fff" stroke="#fff" stroke-width="0.6"/>
<polygon points="1578.21,457.52 1580.17,451.7 1580.17,464.56 1578.21,470.38" fill="#fff" stroke="#fff" stroke-width="0.6"/>
<polygon points="1575.74,463.27 1578.21,457.52 1578.21,470.38 1575.74,476.14" fill="#fff" stroke="#fff" stroke-width="0.6"/>
<polygon points="1572.75,468.94 1575.74,463.27 1575.74,476.14 1572.75,481.81" fill="#fff" stroke="#fff" stroke-width="0.6"/>
<polygon points="1569.27,474.52 1572.75,468.94 1572.75,481.81 1569.27,487.38" fill="#fff" stroke="#fff" stroke-width="0.6"/>
<polygon points="1565.29,479.98 1569.27,474.52 1569.27,487.38 1565.29,492.85" fill="#fff" stroke="#fff" stroke-width="0.6"/>
<polygon points="1560.82,485.32 1565.29,479.98 1565.29,492.85 1560.82,498.18" fill="#fff" stroke="#fff" stroke-width="0.6"/>
<polygon points="1555.89,490.51 1560.82,485.32 1560.82,498.18 1555.89,503.38" fill="#fff" stroke="#fff" stroke-width="0.6"/>
<polygon points="1550.49,495.56 1555.89,490.51 1555.89,503.38 1550.49,508.43" fill="#fff" stroke="#fff" stroke-width="0.6"/>
<polygon points="1544.66,500.44 1550.49,495.56 1550.49,508.43 1544.66,513.3" fill="#fff" stroke="#fff" stroke-width="0.6"/>
<polygon points="1538.39,505.13 1544.66,500.44 1544.66,513.3 1538.39,518" fill="#fff" stroke="#fff" stroke-width="0.6"/>
<polygon points="1531.71,509.63 1538.39,505.13 1538.39,518 1531.71,522.5" fill="#fff" stroke="#fff" stroke-width="0.6"/>
<polygon points="1524.64,513.93 1531.71,509.63 1531.71,522.5 1524.64,526.8" fill="#fff" stroke="#fff" stroke-width="0.6"/>
<polygon points="1517.2,518.01 1524.64,513.93 1524.64,526.8 1517.2,530.88" fill="#fff" stroke="#fff" stroke-width="0.6"/>
<polygon points="1509.4,521.87 1517.2,518.01 1517.2,530.88 1509.4,534.74" fill="#fff" stroke="#fff" stroke-width="0.6"/>
<polygon points="1501.27,525.49 1509.4,521.87 1509.4,534.74 1501.27,538.35" fill="#fff" stroke="#fff" stroke-width="0.6"/>
<polygon points="1492.82,528.86 1501.27,525.49 1501.27,538.35 1492.82,541.72" fill="#fff" stroke="#fff" stroke-width="0.6"/>
<polygon points="1484.08,531.97 1492.82,528.86 1492.82,541.72 1484.08,544.84" fill="#fff" stroke="#fff" stroke-width="0.6"/>
<polygon points="1475.08,534.82 1484.08,531.97 1484.08,544.84 1475.08,547.69" fill="#fff" stroke="#fff" stroke-width="0.6"/>
<polygon points="1465.84,537.4 1475.08,534.82 1475.08,547.69 1465.84,550.26" fill="#fff" stroke="#fff" stroke-width="0.6"/>
<polygon points="1456.37,539.7 1465.84,537.4 1465.84,550.26 1456.37,552.56" fill="#fff" stroke="#fff" stroke-width="0.6"/>
<polygon points="1446.72,541.71 1456.37,539.7 1456.37,552.56 1446.72,554.58" fill="#fff" stroke="#fff" stroke-width="0.6"/>
<polygon points="1436.89,543.43 1446.72,541.71 1446.72,554.58 1436.89,556.3" fill="#fff" stroke="#fff" stroke-width="0.6"/>
<polygon points="1426.93,544.86 1436.89,543.43 1436.89,556.3 1426.93,557.73" fill="#fff" stroke="#fff" stroke-width="0.6"/>
<polygon points="1416.85,545.99 1426.93,544.86 1426.93,557.73 1416.85,558.86" fill="#fff" stroke="#fff" stroke-width="0.6"/>
<polygon points="1406.68,546.82 1416.85,545.99 1416.85,558.86 1406.68,559.69" fill="#fff" stroke="#fff" stroke-width="0.6"/>
<polygon points="1396.46,547.34 1406.68,546.82 1406.68,559.69 1396.46,560.21" fill="#fff" stroke="#fff" stroke-width="0.6"/>
<polygon points="1376.32,558.97 1396.46,547.34 1396.46,560.21 1376.32,571.84" fill="#fff" stroke="#fff" stroke-width="0.6"/>
<line x1="1582.51" y1="452.79" x2="1601.67" y2="441.73" stroke-width="2.9" stroke-linecap="round"/>
<line x1="1581.6" y1="458.69" x2="1582.51" y2="452.79" stroke-width="2.9" stroke-linecap="round"/>
<line x1="1580.17" y1="464.56" x2="1581.6" y2="458.69" stroke-width="2.9" stroke-linecap="round"/>
<line x1="1578.21" y1="470.38" x2="1580.17" y2="464.56" stroke-width="2.9" stroke-linecap="round"/>
<line x1="1575.74" y1="476.14" x2="1578.21" y2="470.38" stroke-width="2.9" stroke-linecap="round"/>
<line x1="1572.75" y1="481.81" x2="1575.74" y2="476.14" stroke-width="2.9" stroke-linecap="round"/>
<line x1="1569.27" y1="487.38" x2="1572.75" y2="481.81" stroke-width="2.9" stroke-linecap="round"/>
<line x1="1565.29" y1="492.85" x2="1569.27" y2="487.38" stroke-width="2.9" stroke-linecap="round"/>
<line x1="1560.82" y1="498.18" x2="1565.29" y2="492.85" stroke-width="2.9" stroke-linecap="round"/>
<line x1="1555.89" y1="503.38" x2="1560.82" y2="498.18" stroke-width="2.9" stroke-linecap="round"/>
<line x1="1550.49" y1="508.43" x2="1555.89" y2="503.38" stroke-width="2.9" stroke-linecap="round"/>
<line x1="1544.66" y1="513.3" x2="1550.49" y2="508.43" stroke-width="2.9" stroke-linecap="round"/>
<line x1="1538.39" y1="518" x2="1544.66" y2="513.3" stroke-width="2.9" stroke-linecap="round"/>
<line x1="1531.71" y1="522.5" x2="1538.39" y2="518" stroke-width="2.9" stroke-linecap="round"/>
<line x1="1524.64" y1="526.8" x2="1531.71" y2="522.5" stroke-width="2.9" stroke-linecap="round"/>
<line x1="1517.2" y1="530.88" x2="1524.64" y2="526.8" stroke-width="2.9" stroke-linecap="round"/>
<line x1="1509.4" y1="534.74" x2="1517.2" y2="530.88" stroke-width="2.9" stroke-linecap="round"/>
<line x1="1501.27" y1="538.35" x2="1509.4" y2="534.74" stroke-width="2.9" stroke-linecap="round"/>
<line x1="1492.82" y1="541.72" x2="1501.27" y2="538.35" stroke-width="2.9" stroke-linecap="round"/>
<line x1="1484.08" y1="544.84" x2="1492.82" y2="541.72" stroke-width="2.9" stroke-linecap="round"/>
<line x1="1475.08" y1="547.69" x2="1484.08" y2="544.84" stroke-width="2.9" stroke-linecap="round"/>
<line x1="1465.84" y1="550.26" x2="1475.08" y2="547.69" stroke-width="2.9" stroke-linecap="round"/>
<line x1="1456.37" y1="552.56" x2="1465.84" y2="550.26" stroke-width="2.9" stroke-linecap="round"/>
<line x1="1446.72" y1="554.58" x2="1456.37" y2="552.56" stroke-width="2.9" stroke-linecap="round"/>
<line x1="1436.89" y1="556.3" x2="1446.72" y2="554.58" stroke-width="2.9" stroke-linecap="round"/>
<line x1="1426.93" y1="557.73" x2="1436.89" y2="556.3" stroke-width="2.9" stroke-linecap="round"/>
<line x1="1416.85" y1="558.86" x2="1426.93" y2="557.73" stroke-width="2.9" stroke-linecap="round"/>
<line x1="1406.68" y1="559.69" x2="1416.85" y2="558.86" stroke-width="2.9" stroke-linecap="round"/>
<line x1="1396.46" y1="560.21" x2="1406.68" y2="559.69" stroke-width="2.9" stroke-linecap="round"/>
<line x1="1376.32" y1="571.84" x2="1396.46" y2="560.21" stroke-width="2.9" stroke-linecap="round"/>
<polygon points="1376.32,558.97 1396.46,547.34 1406.68,546.82 1416.85,545.99 1426.93,544.86 1436.89,543.43 1446.72,541.71 1456.37,539.7 1465.84,537.4 1475.08,534.82 1484.08,531.97 1492.82,528.86 1501.27,525.49 1509.4,521.87 1517.2,518.01 1524.64,513.93 1531.71,509.63 1538.39,505.13 1544.66,500.44 1550.49,495.56 1555.89,490.51 1560.82,485.32 1565.29,479.98 1569.27,474.52 1572.75,468.94 1575.74,463.27 1578.21,457.52 1580.17,451.7 1581.6,445.83 1582.51,439.92 1601.67,428.86 1390.71,307.06 1371.54,318.12 1361.32,318.65 1351.15,319.47 1341.07,320.6 1331.11,322.03 1321.28,323.75 1311.63,325.77 1302.16,328.07 1292.92,330.64 1283.92,333.49 1275.18,336.61 1266.73,339.98 1258.6,343.59 1250.8,347.45 1243.36,351.53 1236.29,355.83 1229.61,360.33 1223.34,365.03 1217.51,369.9 1212.11,374.95 1207.18,380.15 1202.71,385.48 1198.73,390.95 1195.25,396.52 1192.26,402.19 1189.79,407.95 1187.83,413.77 1186.4,419.64 1185.49,425.54 1165.35,437.17" fill="#fff" stroke="none"/>
<polyline points="1376.32,558.97 1396.46,547.34 1406.68,546.82 1416.85,545.99 1426.93,544.86 1436.89,543.43 1446.72,541.71 1456.37,539.7 1465.84,537.4 1475.08,534.82 1484.08,531.97 1492.82,528.86 1501.27,525.49 1509.4,521.87 1517.2,518.01 1524.64,513.93 1531.71,509.63 1538.39,505.13 1544.66,500.44 1550.49,495.56 1555.89,490.51 1560.82,485.32 1565.29,479.98 1569.27,474.52 1572.75,468.94 1575.74,463.27 1578.21,457.52 1580.17,451.7 1581.6,445.83 1582.51,439.92 1601.67,428.86" stroke-width="2.0"/>
<polyline points="1390.71,307.06 1371.54,318.12 1361.32,318.65 1351.15,319.47 1341.07,320.6 1331.11,322.03 1321.28,323.75 1311.63,325.77 1302.16,328.07 1292.92,330.64 1283.92,333.49 1275.18,336.61 1266.73,339.98 1258.6,343.59 1250.8,347.45 1243.36,351.53 1236.29,355.83 1229.61,360.33 1223.34,365.03 1217.51,369.9 1212.11,374.95 1207.18,380.15 1202.71,385.48 1198.73,390.95 1195.25,396.52 1192.26,402.19 1189.79,407.95 1187.83,413.77 1186.4,419.64 1185.49,425.54 1165.35,437.17" stroke-width="2.0"/>
<polyline points="1376.32,563.84 1396.46,552.21 1406.68,551.69 1416.85,550.86 1426.93,549.73 1436.89,548.3 1446.72,546.58 1456.37,544.57 1465.84,542.27 1475.08,539.69 1484.08,536.84 1492.82,533.73 1501.27,530.36 1509.4,526.74 1517.2,522.89 1524.64,518.8 1531.71,514.51 1538.39,510 1544.66,505.31 1550.49,500.43 1555.89,495.39 1560.82,490.19 1565.29,484.85 1569.27,479.39 1572.75,473.81 1575.74,468.14 1578.21,462.39 1580.17,456.57 1581.6,450.7 1582.51,444.79 1601.67,433.73" stroke-width="1.4"/>
<polygon points="1095.25,464.4 1352.73,613.06 1352.73,650.54 1095.25,501.88" fill="#fff" stroke="#fff" stroke-width="0.6"/>
<polygon points="1362.47,613.06 1411.48,584.76 1411.48,622.24 1362.47,650.54" fill="#fff" stroke="#fff" stroke-width="0.6"/>
<polygon points="1352.73,613.06 1362.47,613.06 1362.47,650.54 1352.73,650.54" fill="#fff" stroke="#fff" stroke-width="0.6"/>
<line x1="1095.25" y1="501.88" x2="1352.73" y2="650.54" stroke-width="2.9" stroke-linecap="round"/>
<line x1="1095.25" y1="464.4" x2="1095.25" y2="501.88" stroke-width="2.9" stroke-linecap="round"/>
<line x1="1352.73" y1="613.06" x2="1352.73" y2="650.54" stroke-width="2.0" stroke-linecap="round"/>
<line x1="1362.47" y1="650.54" x2="1411.48" y2="622.24" stroke-width="2.9" stroke-linecap="round"/>
<line x1="1362.47" y1="613.06" x2="1362.47" y2="650.54" stroke-width="2.0" stroke-linecap="round"/>
<line x1="1411.48" y1="584.76" x2="1411.48" y2="622.24" stroke-width="2.9" stroke-linecap="round"/>
<line x1="1352.73" y1="650.54" x2="1362.47" y2="650.54" stroke-width="2.9" stroke-linecap="round"/>
<line x1="1352.73" y1="613.06" x2="1352.73" y2="650.54" stroke-width="2.0" stroke-linecap="round"/>
<line x1="1362.47" y1="613.06" x2="1362.47" y2="650.54" stroke-width="2.0" stroke-linecap="round"/>
<polygon points="1095.68,445.41 1095.25,464.4 1352.73,613.06 1362.47,613.06 1411.48,584.76 1132.9,423.92" fill="#fff" stroke="none"/>
<polyline points="1095.68,445.41 1095.25,464.4 1352.73,613.06 1362.47,613.06 1411.48,584.76 1132.9,423.92 1095.68,445.41" stroke-width="2.0"/>
<polyline points="1326.23,593.38 1355.44,610.25" stroke-width="1.4"/>
<polyline points="1357.6,615.25 1362.47,616.81 1411.48,588.51" stroke-width="1.4"/>
<polyline points="1095.25,464.4 1095.68,445.41 1132.9,423.92 1165.35,442.66" stroke-width="2.9"/>
<line x1="1098.49" y1="466.27" x2="1098.49" y2="485.64" stroke-width="2.0"/>
<polygon points="1111.47,468.27 1322.44,590.07 1322.44,595.57 1111.47,473.77" fill="#fff" stroke="#fff" stroke-width="0.6"/>
<polygon points="1322.44,590.07 1376.32,558.97 1376.32,564.46 1322.44,595.57" fill="#fff" stroke="#fff" stroke-width="0.6"/>
<line x1="1111.47" y1="468.27" x2="1111.47" y2="473.77" stroke-width="2.0" stroke-linecap="round"/>
<line x1="1322.44" y1="590.07" x2="1322.44" y2="595.57" stroke-width="2.0" stroke-linecap="round"/>
<line x1="1322.44" y1="590.07" x2="1322.44" y2="595.57" stroke-width="2.0" stroke-linecap="round"/>
<line x1="1376.32" y1="558.97" x2="1376.32" y2="564.46" stroke-width="2.0" stroke-linecap="round"/>
<polygon points="1111.47,468.27 1322.44,590.07 1376.32,558.97 1165.35,437.17" fill="#fff" stroke="none"/>
<polyline points="1111.47,468.27 1322.44,590.07 1376.32,558.97" stroke-width="2.0"/>
<polyline points="1165.35,437.17 1111.47,468.27" stroke-width="2.0"/>
<line stroke="#fff" x1="1112.97" y1="474.57" x2="1320.94" y2="594.77" stroke-width="3"/>
<polyline points="1111.47,471.9 1322.44,593.7" stroke-width="1.4"/>
<polyline points="1322.44,594.32 1376.32,563.22" stroke-width="1.4"/>
<polyline points="1111.47,468.27 1185.48,425.55" stroke-width="2.9"/>
<polygon points="1124.46,475.77 1178.98,444.29 1201.49,457.28 1146.96,488.76 1146.96,508 1124.46,495.01" stroke-width="2.0" fill="#fff"/>
<path d="M1125.66 496.27 C1127.12 493.85 1131.22 485.93 1134.46 481.77 C1137.69 477.6 1139.96 476.03 1145.06 471.27 C1150.16 466.5 1159.43 457.58 1165.06 453.17 C1170.68 448.75 1176.52 446.17 1178.81 444.77" stroke-width="1.4"/>
<path d="M1128.81 473.17 C1132.35 471.4 1144.02 465.9 1150.06 462.57 C1156.1 459.23 1162.56 454.73 1165.06 453.17" stroke-width="1.4"/>
<polygon points="1178.55,507 1233.08,475.52 1255.58,488.51 1201.05,519.99 1201.05,539.23 1178.55,526.24" stroke-width="2.0" fill="#fff"/>
<path d="M1179.75 527.5 C1181.22 525.08 1185.32 517.17 1188.55 513 C1191.78 508.83 1194.05 507.27 1199.15 502.5 C1204.25 497.73 1213.53 488.82 1219.15 484.4 C1224.78 479.98 1230.61 477.4 1232.9 476" stroke-width="1.4"/>
<path d="M1182.9 504.4 C1186.44 502.63 1198.11 497.13 1204.15 493.8 C1210.19 490.47 1216.65 485.97 1219.15 484.4" stroke-width="1.4"/>
<polygon points="1232.65,538.23 1287.17,506.75 1309.67,519.74 1255.15,551.22 1255.15,570.46 1232.65,557.47" stroke-width="2.0" fill="#fff"/>
<path d="M1233.85 558.73 C1235.31 556.31 1239.41 548.4 1242.65 544.23 C1245.88 540.06 1248.15 538.5 1253.25 533.73 C1258.35 528.96 1267.62 520.05 1273.25 515.63 C1278.87 511.21 1284.7 508.63 1287 507.23" stroke-width="1.4"/>
<path d="M1237 535.63 C1240.54 533.86 1252.2 528.36 1258.25 525.03 C1264.29 521.7 1270.75 517.2 1273.25 515.63" stroke-width="1.4"/>
<polygon points="1286.74,569.46 1341.27,537.98 1363.77,550.97 1309.24,582.45 1309.24,601.69 1286.74,588.7" stroke-width="2.0" fill="#fff"/>
<path d="M1287.94 589.96 C1289.41 587.54 1293.51 579.63 1296.74 575.46 C1299.97 571.29 1302.24 569.73 1307.34 564.96 C1312.44 560.19 1321.71 551.28 1327.34 546.86 C1332.96 542.44 1338.8 539.86 1341.09 538.46" stroke-width="1.4"/>
<path d="M1291.09 566.86 C1294.63 565.09 1306.3 559.59 1312.34 556.26 C1318.38 552.93 1324.84 548.43 1327.34 546.86" stroke-width="1.4"/>
<ellipse cx="1384" cy="432.73" rx="119.34" ry="68.9" stroke-width="2.0" fill="#fff"/>
<ellipse cx="1384" cy="428.98" rx="114.75" ry="66.25" stroke-width="2.0" fill="#fff"/>
<ellipse cx="1384" cy="372.02" rx="195.84" ry="113.07" stroke-width="2.0" fill="#fff"/>
<ellipse cx="1384" cy="364.02" rx="198.9" ry="114.83" stroke-width="2.9" fill="#fff"/>
<ellipse cx="1384" cy="360.9" rx="194.46" ry="112.27" stroke-width="2.0"/>
<clipPath id="h2o"><ellipse cx="1384" cy="360.9" rx="108.94" ry="62.89"/></clipPath>
<clipPath id="h2i"><ellipse cx="1384" cy="365.52" rx="104.35" ry="60.24"/></clipPath>
<g clip-path="url(#h2o)">
<ellipse cx="1384" cy="365.52" rx="104.35" ry="60.24" stroke-width="2.0"/>
<g clip-path="url(#h2i)">
<ellipse cx="1384" cy="442.48" rx="104.35" ry="60.24" stroke-width="2.9"/>
<ellipse cx="1384" cy="439.48" rx="102.51" ry="59.18" stroke-width="1.4"/>
</g></g>
<ellipse cx="1384" cy="360.9" rx="108.94" ry="62.89" stroke-width="2.0"/>
<polygon points="1425.11,233.98 1472.17,261.15 1472.17,281.89 1425.11,254.71" fill="#fff" stroke="#fff" stroke-width="0.6"/>
<polygon points="1472.17,261.15 1497.08,246.77 1497.08,267.5 1472.17,281.89" fill="#fff" stroke="#fff" stroke-width="0.6"/>
<line x1="1425.11" y1="254.71" x2="1472.17" y2="281.89" stroke-width="2.9" stroke-linecap="round"/>
<line x1="1425.11" y1="233.98" x2="1425.11" y2="254.71" stroke-width="2.9" stroke-linecap="round"/>
<line x1="1472.17" y1="261.15" x2="1472.17" y2="281.89" stroke-width="2.0" stroke-linecap="round"/>
<line x1="1472.17" y1="281.89" x2="1497.08" y2="267.5" stroke-width="2.9" stroke-linecap="round"/>
<line x1="1472.17" y1="261.15" x2="1472.17" y2="281.89" stroke-width="2.0" stroke-linecap="round"/>
<line x1="1497.08" y1="246.77" x2="1497.08" y2="267.5" stroke-width="2.9" stroke-linecap="round"/>
<polygon points="1472.17,261.15 1497.08,246.77 1489.65,243.91 1482.01,241.25 1474.16,238.8 1466.13,236.55 1457.94,234.51 1449.59,232.69 1441.11,231.08 1432.51,229.71 1425.11,233.98" fill="#fff" stroke="none"/>
<polyline points="1472.17,261.15 1497.08,246.77 1489.65,243.91 1482.01,241.25 1474.16,238.8 1466.13,236.55 1457.94,234.51 1449.59,232.69 1441.11,231.08 1432.51,229.71 1425.11,233.98 1472.17,261.15" stroke-width="2.9"/>
<polyline points="1493.23,248.99 1486.12,246.28 1478.81,243.76 1471.31,241.43 1463.64,239.29 1455.82,237.35 1447.85,235.61 1439.76,234.08 1431.55,232.76" stroke-width="1.4"/>
<polygon points="1572.25,318.93 1520.86,289.26 1520.86,309.99 1572.25,339.66" fill="#fff" stroke="#fff" stroke-width="0.6"/>
<polygon points="1576.96,316.2 1572.25,318.93 1572.25,339.66 1576.96,336.94" fill="#fff" stroke="#fff" stroke-width="0.6"/>
<line x1="1572.25" y1="339.66" x2="1520.86" y2="309.99" stroke-width="2.9" stroke-linecap="round"/>
<line x1="1572.25" y1="318.93" x2="1572.25" y2="339.66" stroke-width="2.0" stroke-linecap="round"/>
<line x1="1520.86" y1="289.26" x2="1520.86" y2="309.99" stroke-width="2.9" stroke-linecap="round"/>
<line x1="1576.96" y1="336.94" x2="1572.25" y2="339.66" stroke-width="2.9" stroke-linecap="round"/>
<line x1="1576.96" y1="316.2" x2="1576.96" y2="336.94" stroke-width="2.9" stroke-linecap="round"/>
<line x1="1572.25" y1="318.93" x2="1572.25" y2="339.66" stroke-width="2.0" stroke-linecap="round"/>
<polygon points="1520.86,289.26 1545.77,274.88 1551.19,279.6 1556.2,284.48 1560.79,289.5 1564.94,294.64 1568.64,299.9 1571.88,305.25 1574.66,310.69 1576.96,316.2 1572.25,318.93" fill="#fff" stroke="none"/>
<polyline points="1520.86,289.26 1545.77,274.88 1551.19,279.6 1556.2,284.48 1560.79,289.5 1564.94,294.64 1568.64,299.9 1571.88,305.25 1574.66,310.69 1576.96,316.2 1572.25,318.93 1520.86,289.26" stroke-width="2.9"/>
<polyline points="1541.92,277.1 1547.08,281.64 1551.86,286.33 1556.23,291.14 1560.18,296.08 1563.71,301.12 1566.81,306.25 1569.47,311.47 1571.69,316.75" stroke-width="1.4"/>
<polygon points="1192.94,368.74 1190.66,363.09 1190.66,383.83 1192.94,389.48" fill="#fff" stroke="#fff" stroke-width="0.6"/>
<polygon points="1195.71,374.32 1192.94,368.74 1192.94,389.48 1195.71,395.06" fill="#fff" stroke="#fff" stroke-width="0.6"/>
<polygon points="1198.96,379.81 1195.71,374.32 1195.71,395.06 1198.96,400.55" fill="#fff" stroke="#fff" stroke-width="0.6"/>
<polygon points="1202.7,385.2 1198.96,379.81 1198.96,400.55 1202.7,405.94" fill="#fff" stroke="#fff" stroke-width="0.6"/>
<polygon points="1206.91,390.47 1202.7,385.2 1202.7,405.94 1206.91,411.21" fill="#fff" stroke="#fff" stroke-width="0.6"/>
<polygon points="1211.57,395.61 1206.91,390.47 1206.91,411.21 1211.57,416.35" fill="#fff" stroke="#fff" stroke-width="0.6"/>
<polygon points="1216.69,400.61 1211.57,395.61 1211.57,416.35 1216.69,421.35" fill="#fff" stroke="#fff" stroke-width="0.6"/>
<polygon points="1247.14,391.07 1222.23,405.45 1222.23,426.19 1247.14,411.81" fill="#fff" stroke="#fff" stroke-width="0.6"/>
<polygon points="1222.23,405.45 1216.69,400.61 1216.69,421.35 1222.23,426.19" fill="#fff" stroke="#fff" stroke-width="0.6"/>
<line x1="1192.94" y1="389.48" x2="1190.66" y2="383.83" stroke-width="2.9" stroke-linecap="round"/>
<line x1="1190.66" y1="363.09" x2="1190.66" y2="383.83" stroke-width="2.9" stroke-linecap="round"/>
<line x1="1195.71" y1="395.06" x2="1192.94" y2="389.48" stroke-width="2.9" stroke-linecap="round"/>
<line x1="1198.96" y1="400.55" x2="1195.71" y2="395.06" stroke-width="2.9" stroke-linecap="round"/>
<line x1="1202.7" y1="405.94" x2="1198.96" y2="400.55" stroke-width="2.9" stroke-linecap="round"/>
<line x1="1206.91" y1="411.21" x2="1202.7" y2="405.94" stroke-width="2.9" stroke-linecap="round"/>
<line x1="1211.57" y1="416.35" x2="1206.91" y2="411.21" stroke-width="2.9" stroke-linecap="round"/>
<line x1="1216.69" y1="421.35" x2="1211.57" y2="416.35" stroke-width="2.9" stroke-linecap="round"/>
<line x1="1247.14" y1="411.81" x2="1222.23" y2="426.19" stroke-width="2.9" stroke-linecap="round"/>
<line x1="1247.14" y1="391.07" x2="1247.14" y2="411.81" stroke-width="2.9" stroke-linecap="round"/>
<line x1="1222.23" y1="405.45" x2="1222.23" y2="426.19" stroke-width="2.0" stroke-linecap="round"/>
<line x1="1222.23" y1="426.19" x2="1216.69" y2="421.35" stroke-width="2.9" stroke-linecap="round"/>
<line x1="1222.23" y1="405.45" x2="1222.23" y2="426.19" stroke-width="2.0" stroke-linecap="round"/>
<polygon points="1247.14,391.07 1222.23,405.45 1216.69,400.61 1211.57,395.61 1206.91,390.47 1202.7,385.2 1198.96,379.81 1195.71,374.32 1192.94,368.74 1190.66,363.09 1194.67,360.78" fill="#fff" stroke="none"/>
<polyline points="1247.14,391.07 1222.23,405.45 1216.69,400.61 1211.57,395.61 1206.91,390.47 1202.7,385.2 1198.96,379.81 1195.71,374.32 1192.94,368.74 1190.66,363.09 1194.67,360.78 1247.14,391.07" stroke-width="2.9"/>
<polyline points="1226.08,403.23 1220.8,398.57 1215.92,393.77 1211.47,388.83 1207.46,383.76 1203.89,378.59 1200.77,373.32 1198.12,367.97 1195.94,362.54" stroke-width="1.4"/>
<polygon points="1270.92,433.56 1278.44,436.45 1278.44,457.19 1270.92,454.3" fill="#fff" stroke="#fff" stroke-width="0.6"/>
<polygon points="1278.44,436.45 1286.19,439.14 1286.19,459.87 1278.44,457.19" fill="#fff" stroke="#fff" stroke-width="0.6"/>
<polygon points="1286.19,439.14 1294.13,441.62 1294.13,462.35 1286.19,459.87" fill="#fff" stroke="#fff" stroke-width="0.6"/>
<polygon points="1294.13,441.62 1302.27,443.89 1302.27,464.62 1294.13,462.35" fill="#fff" stroke="#fff" stroke-width="0.6"/>
<polygon points="1302.27,443.89 1310.58,445.94 1310.58,466.67 1302.27,464.62" fill="#fff" stroke="#fff" stroke-width="0.6"/>
<polygon points="1310.58,445.94 1319.04,447.77 1319.04,468.5 1310.58,466.67" fill="#fff" stroke="#fff" stroke-width="0.6"/>
<polygon points="1319.04,447.77 1327.64,449.37 1327.64,470.11 1319.04,468.5" fill="#fff" stroke="#fff" stroke-width="0.6"/>
<polygon points="1336.36,450.74 1343.43,446.66 1343.43,467.4 1336.36,471.48" fill="#fff" stroke="#fff" stroke-width="0.6"/>
<polygon points="1327.64,449.37 1336.36,450.74 1336.36,471.48 1327.64,470.11" fill="#fff" stroke="#fff" stroke-width="0.6"/>
<line x1="1270.92" y1="454.3" x2="1278.44" y2="457.19" stroke-width="2.9" stroke-linecap="round"/>
<line x1="1270.92" y1="433.56" x2="1270.92" y2="454.3" stroke-width="2.9" stroke-linecap="round"/>
<line x1="1278.44" y1="457.19" x2="1286.19" y2="459.87" stroke-width="2.9" stroke-linecap="round"/>
<line x1="1286.19" y1="459.87" x2="1294.13" y2="462.35" stroke-width="2.9" stroke-linecap="round"/>
<line x1="1294.13" y1="462.35" x2="1302.27" y2="464.62" stroke-width="2.9" stroke-linecap="round"/>
<line x1="1302.27" y1="464.62" x2="1310.58" y2="466.67" stroke-width="2.9" stroke-linecap="round"/>
<line x1="1310.58" y1="466.67" x2="1319.04" y2="468.5" stroke-width="2.9" stroke-linecap="round"/>
<line x1="1319.04" y1="468.5" x2="1327.64" y2="470.11" stroke-width="2.9" stroke-linecap="round"/>
<line x1="1336.36" y1="471.48" x2="1343.43" y2="467.4" stroke-width="2.9" stroke-linecap="round"/>
<line x1="1336.36" y1="450.74" x2="1336.36" y2="471.48" stroke-width="2.0" stroke-linecap="round"/>
<line x1="1343.43" y1="446.66" x2="1343.43" y2="467.4" stroke-width="2.9" stroke-linecap="round"/>
<line x1="1327.64" y1="470.11" x2="1336.36" y2="471.48" stroke-width="2.9" stroke-linecap="round"/>
<line x1="1336.36" y1="450.74" x2="1336.36" y2="471.48" stroke-width="2.0" stroke-linecap="round"/>
<polygon points="1295.83,419.18 1270.92,433.56 1278.44,436.45 1286.19,439.14 1294.13,441.62 1302.27,443.89 1310.58,445.94 1319.04,447.77 1327.64,449.37 1336.36,450.74 1343.43,446.66" fill="#fff" stroke="none"/>
<polyline points="1295.83,419.18 1270.92,433.56 1278.44,436.45 1286.19,439.14 1294.13,441.62 1302.27,443.89 1310.58,445.94 1319.04,447.77 1327.64,449.37 1336.36,450.74 1343.43,446.66 1295.83,419.18" stroke-width="2.9"/>
<polyline points="1274.77,431.34 1281.97,434.08 1289.38,436.63 1296.98,438.99 1304.76,441.14 1312.7,443.1 1320.78,444.84 1328.99,446.38 1337.31,447.7" stroke-width="1.4"/>
<polygon points="1105.6,483.75 1086.25,495 1081.9,500 1080.6,506.25 1080.6,581.25 1086.9,584.25 1093.75,581.25 1093.75,508.75 1095,504.4 1111.9,494.4 1111.25,486.9" stroke-width="2.0" fill="#fff"/>
<polyline points="1111.25,486.9 1091.9,498.1 1088.75,501.25 1086.9,507.5 1086.9,584.25" stroke-width="1.4"/>
<polygon points="1159.7,515 1140.35,526.25 1136,531.25 1134.7,537.5 1134.7,612.5 1141,615.5 1147.85,612.5 1147.85,540 1149.1,535.65 1166,525.65 1165.35,518.15" stroke-width="2.0" fill="#fff"/>
<polyline points="1165.35,518.15 1146,529.35 1142.85,532.5 1141,538.75 1141,615.5" stroke-width="1.4"/>
<polygon points="1213.8,546.25 1194.45,557.5 1190.1,562.5 1188.8,568.75 1188.8,643.75 1195.1,646.75 1201.95,643.75 1201.95,571.25 1203.2,566.9 1220.1,556.9 1219.45,549.4" stroke-width="2.0" fill="#fff"/>
<polyline points="1219.45,549.4 1200.1,560.6 1196.95,563.75 1195.1,570 1195.1,646.75" stroke-width="1.4"/>
<polygon points="1267.9,577.5 1248.55,588.75 1244.2,593.75 1242.9,600 1242.9,675 1249.2,678 1256.05,675 1256.05,602.5 1257.3,598.15 1274.2,588.15 1273.55,580.65" stroke-width="2.0" fill="#fff"/>
<polyline points="1273.55,580.65 1254.2,591.85 1251.05,595 1249.2,601.25 1249.2,678" stroke-width="1.4"/>
<polygon points="1322,608.75 1302.65,620 1298.3,625 1297,631.25 1297,706.25 1303.3,709.25 1310.15,706.25 1310.15,633.75 1311.4,629.4 1328.3,619.4 1327.65,611.9" stroke-width="2.0" fill="#fff"/>
<polyline points="1327.65,611.9 1308.3,623.1 1305.15,626.25 1303.3,632.5 1303.3,709.25" stroke-width="1.4"/>
<polygon points="1427.18,1685.31 1478.57,1714.98 1478.57,1735.72 1427.18,1706.05" fill="#fff" stroke="#fff" stroke-width="0.6"/>
<polygon points="1478.57,1714.98 1503.48,1700.6 1503.48,1721.34 1478.57,1735.72" fill="#fff" stroke="#fff" stroke-width="0.6"/>
<line x1="1427.18" y1="1706.05" x2="1478.57" y2="1735.72" stroke-width="2.5" stroke-linecap="round"/>
<line x1="1427.18" y1="1685.31" x2="1427.18" y2="1706.05" stroke-width="2.5" stroke-linecap="round"/>
<line x1="1478.57" y1="1714.98" x2="1478.57" y2="1735.72" stroke-width="1.8" stroke-linecap="round"/>
<line x1="1478.57" y1="1735.72" x2="1503.48" y2="1721.34" stroke-width="2.5" stroke-linecap="round"/>
<line x1="1478.57" y1="1714.98" x2="1478.57" y2="1735.72" stroke-width="1.8" stroke-linecap="round"/>
<line x1="1503.48" y1="1700.6" x2="1503.48" y2="1721.34" stroke-width="2.5" stroke-linecap="round"/>
<polygon points="1478.57,1714.98 1503.48,1700.6 1495.29,1697.47 1486.84,1694.58 1478.15,1691.93 1469.25,1689.53 1460.15,1687.4 1450.87,1685.53 1441.45,1683.92 1431.9,1682.59 1427.18,1685.31" fill="#fff" stroke="none"/>
<polyline points="1478.57,1714.98 1503.48,1700.6 1495.29,1697.47 1486.84,1694.58 1478.15,1691.93 1469.25,1689.53 1460.15,1687.4 1450.87,1685.53 1441.45,1683.92 1431.9,1682.59 1427.18,1685.31 1478.57,1714.98" stroke-width="1.8"/>
<polygon points="1578.65,1772.76 1527.26,1743.09 1527.26,1763.83 1578.65,1793.5" fill="#fff" stroke="#fff" stroke-width="0.6"/>
<polygon points="1583.36,1770.04 1578.65,1772.76 1578.65,1793.5 1583.36,1790.78" fill="#fff" stroke="#fff" stroke-width="0.6"/>
<line x1="1578.65" y1="1793.5" x2="1527.26" y2="1763.83" stroke-width="2.5" stroke-linecap="round"/>
<line x1="1578.65" y1="1772.76" x2="1578.65" y2="1793.5" stroke-width="1.8" stroke-linecap="round"/>
<line x1="1527.26" y1="1743.09" x2="1527.26" y2="1763.83" stroke-width="2.5" stroke-linecap="round"/>
<line x1="1583.36" y1="1790.78" x2="1578.65" y2="1793.5" stroke-width="2.5" stroke-linecap="round"/>
<line x1="1583.36" y1="1770.04" x2="1583.36" y2="1790.78" stroke-width="2.5" stroke-linecap="round"/>
<line x1="1578.65" y1="1772.76" x2="1578.65" y2="1793.5" stroke-width="1.8" stroke-linecap="round"/>
<polygon points="1527.26,1743.09 1552.17,1728.71 1557.59,1733.44 1562.6,1738.32 1567.19,1743.33 1571.34,1748.48 1575.04,1753.73 1578.28,1759.09 1581.06,1764.53 1583.36,1770.04 1578.65,1772.76" fill="#fff" stroke="none"/>
<polyline points="1527.26,1743.09 1552.17,1728.71 1557.59,1733.44 1562.6,1738.32 1567.19,1743.33 1571.34,1748.48 1575.04,1753.73 1578.28,1759.09 1581.06,1764.53 1583.36,1770.04 1578.65,1772.76 1527.26,1743.09" stroke-width="1.8"/>
<polygon points="1199.74,1823.47 1197.44,1817.96 1197.44,1838.69 1199.74,1844.21" fill="#fff" stroke="#fff" stroke-width="0.6"/>
<polygon points="1202.52,1828.91 1199.74,1823.47 1199.74,1844.21 1202.52,1849.65" fill="#fff" stroke="#fff" stroke-width="0.6"/>
<polygon points="1205.76,1834.27 1202.52,1828.91 1202.52,1849.65 1205.76,1855" fill="#fff" stroke="#fff" stroke-width="0.6"/>
<polygon points="1209.46,1839.52 1205.76,1834.27 1205.76,1855 1209.46,1860.26" fill="#fff" stroke="#fff" stroke-width="0.6"/>
<polygon points="1213.61,1844.66 1209.46,1839.52 1209.46,1860.26 1213.61,1865.4" fill="#fff" stroke="#fff" stroke-width="0.6"/>
<polygon points="1218.2,1849.68 1213.61,1844.66 1213.61,1865.4 1218.2,1870.42" fill="#fff" stroke="#fff" stroke-width="0.6"/>
<polygon points="1253.54,1844.91 1228.63,1859.29 1228.63,1880.02 1253.54,1865.64" fill="#fff" stroke="#fff" stroke-width="0.6"/>
<polygon points="1223.21,1854.56 1218.2,1849.68 1218.2,1870.42 1223.21,1875.3" fill="#fff" stroke="#fff" stroke-width="0.6"/>
<polygon points="1228.63,1859.29 1223.21,1854.56 1223.21,1875.3 1228.63,1880.02" fill="#fff" stroke="#fff" stroke-width="0.6"/>
<line x1="1199.74" y1="1844.21" x2="1197.44" y2="1838.69" stroke-width="2.5" stroke-linecap="round"/>
<line x1="1197.44" y1="1817.96" x2="1197.44" y2="1838.69" stroke-width="2.5" stroke-linecap="round"/>
<line x1="1202.52" y1="1849.65" x2="1199.74" y2="1844.21" stroke-width="2.5" stroke-linecap="round"/>
<line x1="1205.76" y1="1855" x2="1202.52" y2="1849.65" stroke-width="2.5" stroke-linecap="round"/>
<line x1="1209.46" y1="1860.26" x2="1205.76" y2="1855" stroke-width="2.5" stroke-linecap="round"/>
<line x1="1213.61" y1="1865.4" x2="1209.46" y2="1860.26" stroke-width="2.5" stroke-linecap="round"/>
<line x1="1218.2" y1="1870.42" x2="1213.61" y2="1865.4" stroke-width="2.5" stroke-linecap="round"/>
<line x1="1253.54" y1="1865.64" x2="1228.63" y2="1880.02" stroke-width="2.5" stroke-linecap="round"/>
<line x1="1253.54" y1="1844.91" x2="1253.54" y2="1865.64" stroke-width="2.5" stroke-linecap="round"/>
<line x1="1228.63" y1="1859.29" x2="1228.63" y2="1880.02" stroke-width="1.8" stroke-linecap="round"/>
<line x1="1223.21" y1="1875.3" x2="1218.2" y2="1870.42" stroke-width="2.5" stroke-linecap="round"/>
<line x1="1228.63" y1="1880.02" x2="1223.21" y2="1875.3" stroke-width="2.5" stroke-linecap="round"/>
<line x1="1228.63" y1="1859.29" x2="1228.63" y2="1880.02" stroke-width="1.8" stroke-linecap="round"/>
<polygon points="1253.54,1844.91 1228.63,1859.29 1223.21,1854.56 1218.2,1849.68 1213.61,1844.66 1209.46,1839.52 1205.76,1834.27 1202.52,1828.91 1199.74,1823.47 1197.44,1817.96 1202.15,1815.24" fill="#fff" stroke="none"/>
<polyline points="1253.54,1844.91 1228.63,1859.29 1223.21,1854.56 1218.2,1849.68 1213.61,1844.66 1209.46,1839.52 1205.76,1834.27 1202.52,1828.91 1199.74,1823.47 1197.44,1817.96 1202.15,1815.24 1253.54,1844.91" stroke-width="1.8"/>
<polygon points="1277.32,1887.39 1285.51,1890.53 1285.51,1911.26 1277.32,1908.13" fill="#fff" stroke="#fff" stroke-width="0.6"/>
<polygon points="1285.51,1890.53 1293.96,1893.42 1293.96,1914.16 1285.51,1911.26" fill="#fff" stroke="#fff" stroke-width="0.6"/>
<polygon points="1293.96,1893.42 1302.65,1896.07 1302.65,1916.81 1293.96,1914.16" fill="#fff" stroke="#fff" stroke-width="0.6"/>
<polygon points="1302.65,1896.07 1311.55,1898.46 1311.55,1919.2 1302.65,1916.81" fill="#fff" stroke="#fff" stroke-width="0.6"/>
<polygon points="1311.55,1898.46 1320.65,1900.6 1320.65,1921.34 1311.55,1919.2" fill="#fff" stroke="#fff" stroke-width="0.6"/>
<polygon points="1320.65,1900.6 1329.93,1902.47 1329.93,1923.21 1320.65,1921.34" fill="#fff" stroke="#fff" stroke-width="0.6"/>
<polygon points="1329.93,1902.47 1339.35,1904.07 1339.35,1924.81 1329.93,1923.21" fill="#fff" stroke="#fff" stroke-width="0.6"/>
<polygon points="1348.9,1905.4 1353.62,1902.68 1353.62,1923.42 1348.9,1926.14" fill="#fff" stroke="#fff" stroke-width="0.6"/>
<polygon points="1339.35,1904.07 1348.9,1905.4 1348.9,1926.14 1339.35,1924.81" fill="#fff" stroke="#fff" stroke-width="0.6"/>
<line x1="1277.32" y1="1908.13" x2="1285.51" y2="1911.26" stroke-width="2.5" stroke-linecap="round"/>
<line x1="1277.32" y1="1887.39" x2="1277.32" y2="1908.13" stroke-width="2.5" stroke-linecap="round"/>
<line x1="1285.51" y1="1911.26" x2="1293.96" y2="1914.16" stroke-width="2.5" stroke-linecap="round"/>
<line x1="1293.96" y1="1914.16" x2="1302.65" y2="1916.81" stroke-width="2.5" stroke-linecap="round"/>
<line x1="1302.65" y1="1916.81" x2="1311.55" y2="1919.2" stroke-width="2.5" stroke-linecap="round"/>
<line x1="1311.55" y1="1919.2" x2="1320.65" y2="1921.34" stroke-width="2.5" stroke-linecap="round"/>
<line x1="1320.65" y1="1921.34" x2="1329.93" y2="1923.21" stroke-width="2.5" stroke-linecap="round"/>
<line x1="1329.93" y1="1923.21" x2="1339.35" y2="1924.81" stroke-width="2.5" stroke-linecap="round"/>
<line x1="1348.9" y1="1926.14" x2="1353.62" y2="1923.42" stroke-width="2.5" stroke-linecap="round"/>
<line x1="1348.9" y1="1905.4" x2="1348.9" y2="1926.14" stroke-width="1.8" stroke-linecap="round"/>
<line x1="1353.62" y1="1902.68" x2="1353.62" y2="1923.42" stroke-width="2.5" stroke-linecap="round"/>
<line x1="1339.35" y1="1924.81" x2="1348.9" y2="1926.14" stroke-width="2.5" stroke-linecap="round"/>
<line x1="1348.9" y1="1905.4" x2="1348.9" y2="1926.14" stroke-width="1.8" stroke-linecap="round"/>
<polygon points="1302.23,1873.01 1277.32,1887.39 1285.51,1890.53 1293.96,1893.42 1302.65,1896.07 1311.55,1898.46 1320.65,1900.6 1329.93,1902.47 1339.35,1904.07 1348.9,1905.4 1353.62,1902.68" fill="#fff" stroke="none"/>
<polyline points="1302.23,1873.01 1277.32,1887.39 1285.51,1890.53 1293.96,1893.42 1302.65,1896.07 1311.55,1898.46 1320.65,1900.6 1329.93,1902.47 1339.35,1904.07 1348.9,1905.4 1353.62,1902.68 1302.23,1873.01" stroke-width="1.8"/>
<ellipse cx="1390.4" cy="1794" rx="194.46" ry="112.27" stroke-width="2.5" fill="#fff"/>
<ellipse cx="1390.4" cy="1790.88" rx="198.9" ry="114.83" stroke-width="2.5" fill="#fff"/>
<ellipse cx="1390.4" cy="1782.88" rx="195.84" ry="113.07" stroke-width="1.8" fill="#fff"/>
<ellipse cx="1390.4" cy="1782.76" rx="120.87" ry="69.78" stroke-width="1.8" fill="#fff"/>
<ellipse cx="1390.4" cy="1778.51" rx="114.75" ry="66.25" stroke-width="1.8" fill="#fff"/>
<rect x="1275.65" y="1722.17" width="229.5" height="56.34" fill="#fff" stroke="none"/>
<line x1="1275.65" y1="1722.17" x2="1275.65" y2="1778.51" stroke-width="2.5"/>
<line x1="1505.15" y1="1722.17" x2="1505.15" y2="1778.51" stroke-width="2.5"/>
<polygon points="1506.25,1424.4 1513.1,1420.6 1520,1424.4 1520,1506 1517,1512 1506.25,1506" stroke-width="2.0" fill="#fff"/>
<polyline points="1506.25,1424.4 1513.1,1427.8 1520,1424.4" stroke-width="1.5"/>
<polyline points="1510.5,1427 1510.5,1502 1516,1506" stroke-width="1.5"/>
<polygon points="1560.35,1455.65 1567.2,1451.85 1574.1,1455.65 1574.1,1537.25 1571.1,1543.25 1560.35,1537.25" stroke-width="2.0" fill="#fff"/>
<polyline points="1560.35,1455.65 1567.2,1459.05 1574.1,1455.65" stroke-width="1.5"/>
<polyline points="1564.6,1458.25 1564.6,1533.25 1570.1,1537.25" stroke-width="1.5"/>
<polygon points="1614.45,1486.9 1621.3,1483.1 1628.2,1486.9 1628.2,1568.5 1625.2,1574.5 1614.45,1568.5" stroke-width="2.0" fill="#fff"/>
<polyline points="1614.45,1486.9 1621.3,1490.3 1628.2,1486.9" stroke-width="1.5"/>
<polyline points="1618.7,1489.5 1618.7,1564.5 1624.2,1568.5" stroke-width="1.5"/>
<polygon points="1668.55,1518.15 1675.4,1514.35 1682.3,1518.15 1682.3,1599.75 1679.3,1605.75 1668.55,1599.75" stroke-width="2.0" fill="#fff"/>
<polyline points="1668.55,1518.15 1675.4,1521.55 1682.3,1518.15" stroke-width="1.5"/>
<polyline points="1672.8,1520.75 1672.8,1595.75 1678.3,1599.75" stroke-width="1.5"/>
<polygon points="1722.65,1549.4 1729.5,1545.6 1736.4,1549.4 1736.4,1631 1733.4,1637 1722.65,1631" stroke-width="2.0" fill="#fff"/>
<polyline points="1722.65,1549.4 1729.5,1552.8 1736.4,1549.4" stroke-width="1.5"/>
<polyline points="1726.9,1552 1726.9,1627 1732.4,1631" stroke-width="1.5"/>
<polygon points="1361.95,1529.47 1643.23,1691.87 1643.23,1733.1 1361.95,1570.7" fill="#fff" stroke="#fff" stroke-width="0.6"/>
<polygon points="1643.23,1691.87 1738.76,1636.72 1738.76,1677.94 1643.23,1733.1" fill="#fff" stroke="#fff" stroke-width="0.6"/>
<line x1="1361.95" y1="1570.7" x2="1643.23" y2="1733.1" stroke-width="2.5" stroke-linecap="round"/>
<line x1="1361.95" y1="1529.47" x2="1361.95" y2="1570.7" stroke-width="2.5" stroke-linecap="round"/>
<line x1="1643.23" y1="1691.87" x2="1643.23" y2="1733.1" stroke-width="1.8" stroke-linecap="round"/>
<line x1="1643.23" y1="1733.1" x2="1738.76" y2="1677.94" stroke-width="2.5" stroke-linecap="round"/>
<line x1="1643.23" y1="1691.87" x2="1643.23" y2="1733.1" stroke-width="1.8" stroke-linecap="round"/>
<line x1="1738.76" y1="1636.72" x2="1738.76" y2="1677.94" stroke-width="2.5" stroke-linecap="round"/>
<polygon points="1361.95,1529.47 1643.23,1691.87 1738.76,1636.72 1457.48,1474.32" fill="#fff" stroke="none"/>
<polyline points="1361.95,1529.47 1643.23,1691.87 1738.76,1636.72 1457.48,1474.32 1361.95,1529.47" stroke-width="2.5"/>
<polyline points="1366.27,1526.97 1643.23,1686.88" stroke-width="1.2"/>
<polyline points="1643.23,1696.25 1738.76,1641.09" stroke-width="1.2"/>
<polygon points="1588.91,1716.49 1608.07,1705.43 1608.07,1718.29 1588.91,1729.36" fill="#fff" stroke="#fff" stroke-width="0.6"/>
<polygon points="1588,1722.4 1588.91,1716.49 1588.91,1729.36 1588,1735.26" fill="#fff" stroke="#fff" stroke-width="0.6"/>
<polygon points="1586.57,1728.27 1588,1722.4 1588,1735.26 1586.57,1741.13" fill="#fff" stroke="#fff" stroke-width="0.6"/>
<polygon points="1584.61,1734.08 1586.57,1728.27 1586.57,1741.13 1584.61,1746.95" fill="#fff" stroke="#fff" stroke-width="0.6"/>
<polygon points="1582.14,1739.84 1584.61,1734.08 1584.61,1746.95 1582.14,1752.7" fill="#fff" stroke="#fff" stroke-width="0.6"/>
<polygon points="1579.15,1745.51 1582.14,1739.84 1582.14,1752.7 1579.15,1758.38" fill="#fff" stroke="#fff" stroke-width="0.6"/>
<polygon points="1575.67,1751.08 1579.15,1745.51 1579.15,1758.38 1575.67,1763.95" fill="#fff" stroke="#fff" stroke-width="0.6"/>
<polygon points="1571.69,1756.55 1575.67,1751.08 1575.67,1763.95 1571.69,1769.41" fill="#fff" stroke="#fff" stroke-width="0.6"/>
<polygon points="1567.22,1761.89 1571.69,1756.55 1571.69,1769.41 1567.22,1774.75" fill="#fff" stroke="#fff" stroke-width="0.6"/>
<polygon points="1562.29,1767.08 1567.22,1761.89 1567.22,1774.75 1562.29,1779.95" fill="#fff" stroke="#fff" stroke-width="0.6"/>
<polygon points="1556.89,1772.13 1562.29,1767.08 1562.29,1779.95 1556.89,1784.99" fill="#fff" stroke="#fff" stroke-width="0.6"/>
<polygon points="1551.06,1777 1556.89,1772.13 1556.89,1784.99 1551.06,1789.87" fill="#fff" stroke="#fff" stroke-width="0.6"/>
<polygon points="1544.79,1781.7 1551.06,1777 1551.06,1789.87 1544.79,1794.57" fill="#fff" stroke="#fff" stroke-width="0.6"/>
<polygon points="1538.11,1786.2 1544.79,1781.7 1544.79,1794.57 1538.11,1799.07" fill="#fff" stroke="#fff" stroke-width="0.6"/>
<polygon points="1531.04,1790.5 1538.11,1786.2 1538.11,1799.07 1531.04,1803.37" fill="#fff" stroke="#fff" stroke-width="0.6"/>
<polygon points="1523.6,1794.58 1531.04,1790.5 1531.04,1803.37 1523.6,1807.45" fill="#fff" stroke="#fff" stroke-width="0.6"/>
<polygon points="1515.8,1798.44 1523.6,1794.58 1523.6,1807.45 1515.8,1811.3" fill="#fff" stroke="#fff" stroke-width="0.6"/>
<polygon points="1507.67,1802.05 1515.8,1798.44 1515.8,1811.3 1507.67,1814.92" fill="#fff" stroke="#fff" stroke-width="0.6"/>
<polygon points="1499.22,1805.42 1507.67,1802.05 1507.67,1814.92 1499.22,1818.29" fill="#fff" stroke="#fff" stroke-width="0.6"/>
<polygon points="1490.48,1808.54 1499.22,1805.42 1499.22,1818.29 1490.48,1821.41" fill="#fff" stroke="#fff" stroke-width="0.6"/>
<polygon points="1481.48,1811.39 1490.48,1808.54 1490.48,1821.41 1481.48,1824.26" fill="#fff" stroke="#fff" stroke-width="0.6"/>
<polygon points="1472.24,1813.97 1481.48,1811.39 1481.48,1824.26 1472.24,1826.83" fill="#fff" stroke="#fff" stroke-width="0.6"/>
<polygon points="1462.77,1816.26 1472.24,1813.97 1472.24,1826.83 1462.77,1829.13" fill="#fff" stroke="#fff" stroke-width="0.6"/>
<polygon points="1453.12,1818.28 1462.77,1816.26 1462.77,1829.13 1453.12,1831.14" fill="#fff" stroke="#fff" stroke-width="0.6"/>
<polygon points="1443.29,1820 1453.12,1818.28 1453.12,1831.14 1443.29,1832.87" fill="#fff" stroke="#fff" stroke-width="0.6"/>
<polygon points="1433.33,1821.43 1443.29,1820 1443.29,1832.87 1433.33,1834.3" fill="#fff" stroke="#fff" stroke-width="0.6"/>
<polygon points="1423.25,1822.56 1433.33,1821.43 1433.33,1834.3 1423.25,1835.43" fill="#fff" stroke="#fff" stroke-width="0.6"/>
<polygon points="1413.08,1823.39 1423.25,1822.56 1423.25,1835.43 1413.08,1836.25" fill="#fff" stroke="#fff" stroke-width="0.6"/>
<polygon points="1402.86,1823.91 1413.08,1823.39 1413.08,1836.25 1402.86,1836.78" fill="#fff" stroke="#fff" stroke-width="0.6"/>
<polygon points="1383.69,1834.97 1402.86,1823.91 1402.86,1836.78 1383.69,1847.84" fill="#fff" stroke="#fff" stroke-width="0.6"/>
<line x1="1588.91" y1="1729.36" x2="1608.07" y2="1718.29" stroke-width="2.5" stroke-linecap="round"/>
<line x1="1588" y1="1735.26" x2="1588.91" y2="1729.36" stroke-width="2.5" stroke-linecap="round"/>
<line x1="1586.57" y1="1741.13" x2="1588" y2="1735.26" stroke-width="2.5" stroke-linecap="round"/>
<line x1="1584.61" y1="1746.95" x2="1586.57" y2="1741.13" stroke-width="2.5" stroke-linecap="round"/>
<line x1="1582.14" y1="1752.7" x2="1584.61" y2="1746.95" stroke-width="2.5" stroke-linecap="round"/>
<line x1="1579.15" y1="1758.38" x2="1582.14" y2="1752.7" stroke-width="2.5" stroke-linecap="round"/>
<line x1="1575.67" y1="1763.95" x2="1579.15" y2="1758.38" stroke-width="2.5" stroke-linecap="round"/>
<line x1="1571.69" y1="1769.41" x2="1575.67" y2="1763.95" stroke-width="2.5" stroke-linecap="round"/>
<line x1="1567.22" y1="1774.75" x2="1571.69" y2="1769.41" stroke-width="2.5" stroke-linecap="round"/>
<line x1="1562.29" y1="1779.95" x2="1567.22" y2="1774.75" stroke-width="2.5" stroke-linecap="round"/>
<line x1="1556.89" y1="1784.99" x2="1562.29" y2="1779.95" stroke-width="2.5" stroke-linecap="round"/>
<line x1="1551.06" y1="1789.87" x2="1556.89" y2="1784.99" stroke-width="2.5" stroke-linecap="round"/>
<line x1="1544.79" y1="1794.57" x2="1551.06" y2="1789.87" stroke-width="2.5" stroke-linecap="round"/>
<line x1="1538.11" y1="1799.07" x2="1544.79" y2="1794.57" stroke-width="2.5" stroke-linecap="round"/>
<line x1="1531.04" y1="1803.37" x2="1538.11" y2="1799.07" stroke-width="2.5" stroke-linecap="round"/>
<line x1="1523.6" y1="1807.45" x2="1531.04" y2="1803.37" stroke-width="2.5" stroke-linecap="round"/>
<line x1="1515.8" y1="1811.3" x2="1523.6" y2="1807.45" stroke-width="2.5" stroke-linecap="round"/>
<line x1="1507.67" y1="1814.92" x2="1515.8" y2="1811.3" stroke-width="2.5" stroke-linecap="round"/>
<line x1="1499.22" y1="1818.29" x2="1507.67" y2="1814.92" stroke-width="2.5" stroke-linecap="round"/>
<line x1="1490.48" y1="1821.41" x2="1499.22" y2="1818.29" stroke-width="2.5" stroke-linecap="round"/>
<line x1="1481.48" y1="1824.26" x2="1490.48" y2="1821.41" stroke-width="2.5" stroke-linecap="round"/>
<line x1="1472.24" y1="1826.83" x2="1481.48" y2="1824.26" stroke-width="2.5" stroke-linecap="round"/>
<line x1="1462.77" y1="1829.13" x2="1472.24" y2="1826.83" stroke-width="2.5" stroke-linecap="round"/>
<line x1="1453.12" y1="1831.14" x2="1462.77" y2="1829.13" stroke-width="2.5" stroke-linecap="round"/>
<line x1="1443.29" y1="1832.87" x2="1453.12" y2="1831.14" stroke-width="2.5" stroke-linecap="round"/>
<line x1="1433.33" y1="1834.3" x2="1443.29" y2="1832.87" stroke-width="2.5" stroke-linecap="round"/>
<line x1="1423.25" y1="1835.43" x2="1433.33" y2="1834.3" stroke-width="2.5" stroke-linecap="round"/>
<line x1="1413.08" y1="1836.25" x2="1423.25" y2="1835.43" stroke-width="2.5" stroke-linecap="round"/>
<line x1="1402.86" y1="1836.78" x2="1413.08" y2="1836.25" stroke-width="2.5" stroke-linecap="round"/>
<line x1="1383.69" y1="1847.84" x2="1402.86" y2="1836.78" stroke-width="2.5" stroke-linecap="round"/>
<polygon points="1383.69,1834.97 1402.86,1823.91 1413.08,1823.39 1423.25,1822.56 1433.33,1821.43 1443.29,1820 1453.12,1818.28 1462.77,1816.26 1472.24,1813.97 1481.48,1811.39 1490.48,1808.54 1499.22,1805.42 1507.67,1802.05 1515.8,1798.44 1523.6,1794.58 1531.04,1790.5 1538.11,1786.2 1544.79,1781.7 1551.06,1777 1556.89,1772.13 1562.29,1767.08 1567.22,1761.89 1571.69,1756.55 1575.67,1751.08 1579.15,1745.51 1582.14,1739.84 1584.61,1734.08 1586.57,1728.27 1588,1722.4 1588.91,1716.49 1608.07,1705.43 1397.11,1583.63 1377.94,1594.69 1367.72,1595.21 1357.55,1596.04 1347.47,1597.17 1337.51,1598.6 1327.68,1600.32 1318.03,1602.34 1308.56,1604.63 1299.32,1607.21 1290.32,1610.06 1281.58,1613.18 1273.13,1616.55 1265,1620.16 1257.2,1624.02 1249.76,1628.1 1242.69,1632.4 1236.01,1636.9 1229.74,1641.6 1223.91,1646.47 1218.51,1651.52 1213.58,1656.71 1209.11,1662.05 1205.13,1667.52 1201.65,1673.09 1198.66,1678.76 1196.19,1684.52 1194.23,1690.33 1192.8,1696.2 1191.89,1702.11 1172.73,1713.17" fill="#fff" stroke="none"/>
<polyline points="1383.69,1834.97 1402.86,1823.91 1413.08,1823.39 1423.25,1822.56 1433.33,1821.43 1443.29,1820 1453.12,1818.28 1462.77,1816.26 1472.24,1813.97 1481.48,1811.39 1490.48,1808.54 1499.22,1805.42 1507.67,1802.05 1515.8,1798.44 1523.6,1794.58 1531.04,1790.5 1538.11,1786.2 1544.79,1781.7 1551.06,1777 1556.89,1772.13 1562.29,1767.08 1567.22,1761.89 1571.69,1756.55 1575.67,1751.08 1579.15,1745.51 1582.14,1739.84 1584.61,1734.08 1586.57,1728.27 1588,1722.4 1588.91,1716.49 1608.07,1705.43" stroke-width="1.8"/>
<polyline points="1397.11,1583.63 1377.94,1594.69 1367.72,1595.21 1357.55,1596.04 1347.47,1597.17 1337.51,1598.6 1327.68,1600.32 1318.03,1602.34 1308.56,1604.63 1299.32,1607.21 1290.32,1610.06 1281.58,1613.18 1273.13,1616.55 1265,1620.16 1257.2,1624.02 1249.76,1628.1 1242.69,1632.4 1236.01,1636.9 1229.74,1641.6 1223.91,1646.47 1218.51,1651.52 1213.58,1656.71 1209.11,1662.05 1205.13,1667.52 1201.65,1673.09 1198.66,1678.76 1196.19,1684.52 1194.23,1690.33 1192.8,1696.2 1191.89,1702.11 1172.73,1713.17" stroke-width="1.8"/>
<polyline points="1383.69,1839.22 1402.86,1828.16 1413.08,1827.63 1423.25,1826.81 1433.33,1825.68 1443.29,1824.25 1453.12,1822.52 1462.77,1820.51 1472.24,1818.21 1481.48,1815.64 1490.48,1812.79 1499.22,1809.67 1507.67,1806.3 1515.8,1802.68 1523.6,1798.83 1531.04,1794.75 1538.11,1790.45 1544.79,1785.95 1551.06,1781.25 1556.89,1776.37 1562.29,1771.33 1567.22,1766.13 1571.69,1760.8 1575.67,1755.33 1579.15,1749.76 1582.14,1744.08 1584.61,1738.33 1586.57,1732.51 1588,1726.64 1588.91,1720.74 1608.07,1709.67" stroke-width="1.2"/>
<polyline points="1397.11,1583.63 1608.07,1705.43" stroke-width="1.8"/>
<polyline points="1392.02,1585.31 1604.07,1707.74" stroke-width="1.2"/>
<clipPath id="h6o"><ellipse cx="1390.4" cy="1709.3" rx="108.94" ry="62.89"/></clipPath>
<clipPath id="h6i"><ellipse cx="1390.4" cy="1713.92" rx="104.35" ry="60.24"/></clipPath>
<g clip-path="url(#h6o)">
<ellipse cx="1390.4" cy="1713.92" rx="104.35" ry="60.24" stroke-width="1.8"/>
<g clip-path="url(#h6i)">
<ellipse cx="1390.4" cy="1792.25" rx="104.35" ry="60.24" stroke-width="2.5"/>
<ellipse cx="1390.4" cy="1789.25" rx="102.51" ry="59.18" stroke-width="1.2"/>
</g></g>
<ellipse cx="1390.4" cy="1709.3" rx="108.94" ry="62.89" stroke-width="1.8"/>
<polygon points="1082.71,1692.56 1347.77,1845.59 1347.77,1884.94 1082.71,1731.91" fill="#fff" stroke="#fff" stroke-width="0.6"/>
<polygon points="1380.23,1845.59 1418.85,1823.29 1418.85,1862.64 1380.23,1884.94" fill="#fff" stroke="#fff" stroke-width="0.6"/>
<polygon points="1347.77,1845.59 1380.23,1845.59 1380.23,1884.94 1347.77,1884.94" fill="#fff" stroke="#fff" stroke-width="0.6"/>
<line x1="1082.71" y1="1731.91" x2="1347.77" y2="1884.94" stroke-width="2.5" stroke-linecap="round"/>
<line x1="1082.71" y1="1692.56" x2="1082.71" y2="1731.91" stroke-width="2.5" stroke-linecap="round"/>
<line x1="1347.77" y1="1845.59" x2="1347.77" y2="1884.94" stroke-width="1.8" stroke-linecap="round"/>
<line x1="1380.23" y1="1884.94" x2="1418.85" y2="1862.64" stroke-width="2.5" stroke-linecap="round"/>
<line x1="1380.23" y1="1845.59" x2="1380.23" y2="1884.94" stroke-width="1.8" stroke-linecap="round"/>
<line x1="1418.85" y1="1823.29" x2="1418.85" y2="1862.64" stroke-width="2.5" stroke-linecap="round"/>
<line x1="1347.77" y1="1884.94" x2="1380.23" y2="1884.94" stroke-width="2.5" stroke-linecap="round"/>
<line x1="1347.77" y1="1845.59" x2="1347.77" y2="1884.94" stroke-width="1.8" stroke-linecap="round"/>
<line x1="1380.23" y1="1845.59" x2="1380.23" y2="1884.94" stroke-width="1.8" stroke-linecap="round"/>
<polygon points="1082.71,1692.56 1347.77,1845.59 1380.23,1845.59 1418.85,1823.29 1137.57,1660.89" fill="#fff" stroke="none"/>
<polyline points="1082.71,1692.56 1347.77,1845.59 1380.23,1845.59 1418.85,1823.29 1137.57,1660.89 1082.71,1692.56" stroke-width="2.5"/>
<polyline points="1087.58,1689.75 1350.48,1841.53 1377.53,1841.53" stroke-width="1.2"/>
<polyline points="1347.77,1850.59 1380.23,1850.59 1418.85,1828.29" stroke-width="1.2"/>
<polyline points="1353.18,1848.72 1353.18,1884.94" stroke-width="1.2"/>
<polyline points="1374.82,1848.72 1374.82,1884.94" stroke-width="1.2"/>
<polygon points="1117.87,1750.34 1117.87,1757.71 1131.07,1765.33 1131.07,1746.09 1153.58,1759.08 1153.58,1778.32 1185.17,1796.56 1185.17,1777.32 1207.67,1790.31 1207.67,1809.55 1239.26,1827.79 1239.26,1808.55 1261.76,1821.54 1261.76,1840.78 1293.36,1859.02 1293.36,1839.78 1315.86,1852.78 1315.86,1872.01 1328.84,1879.51 1328.84,1872.14" fill="#fff" stroke="none"/>
<line x1="1118.87" y1="1752.81" x2="1327.84" y2="1873.41" stroke="#fff" stroke-width="3.4"/>
<polyline points="1117.87,1757.71 1131.07,1765.33 1131.07,1746.09 1153.58,1759.08 1153.58,1778.32 1185.17,1796.56 1185.17,1777.32 1207.67,1790.31 1207.67,1809.55 1239.26,1827.79 1239.26,1808.55 1261.76,1821.54 1261.76,1840.78 1293.36,1859.02 1293.36,1839.78 1315.86,1852.78 1315.86,1872.01 1328.84,1879.51" stroke-width="1.8"/>
<polyline points="1117.87,1757.71 1131.07,1765.33" stroke-width="2.5"/>
<polyline points="1153.58,1778.32 1185.17,1796.56" stroke-width="2.5"/>
<polyline points="1207.67,1809.55 1239.26,1827.79" stroke-width="2.5"/>
<polyline points="1261.76,1840.78 1293.36,1859.02" stroke-width="2.5"/>
<polyline points="1315.86,1872.01 1328.84,1879.51" stroke-width="2.5"/>
<polyline points="1131.07,1765.33 1140.81,1759.71" stroke-width="1.8"/>
<polyline points="1185.17,1796.56 1194.9,1790.94" stroke-width="1.8"/>
<polyline points="1239.26,1827.79 1249,1822.17" stroke-width="1.8"/>
<polyline points="1293.36,1859.02 1303.09,1853.4" stroke-width="1.8"/>
<polygon points="1086.9,1668.1 1093.75,1663.75 1100.6,1667.5 1100.6,1736.25 1112.5,1728.1 1118.1,1731.25 1117.5,1738.1 1096.9,1750.6 1090,1749.4 1086.9,1746" stroke-width="2.0" fill="#fff"/>
<polyline points="1086.9,1668.1 1093.75,1671.2 1100.6,1667.5" stroke-width="1.5"/>
<polyline points="1093.2,1671.2 1093.2,1745.5" stroke-width="1.5"/>
<polyline points="1100.6,1741 1117.8,1731.6" stroke-width="1.5"/>
<polygon points="1141,1699.35 1147.85,1695 1154.7,1698.75 1154.7,1767.5 1166.6,1759.35 1172.2,1762.5 1171.6,1769.35 1151,1781.85 1144.1,1780.65 1141,1777.25" stroke-width="2.0" fill="#fff"/>
<polyline points="1141,1699.35 1147.85,1702.45 1154.7,1698.75" stroke-width="1.5"/>
<polyline points="1147.3,1702.45 1147.3,1776.75" stroke-width="1.5"/>
<polyline points="1154.7,1772.25 1171.9,1762.85" stroke-width="1.5"/>
<polygon points="1195.1,1730.6 1201.95,1726.25 1208.8,1730 1208.8,1798.75 1220.7,1790.6 1226.3,1793.75 1225.7,1800.6 1205.1,1813.1 1198.2,1811.9 1195.1,1808.5" stroke-width="2.0" fill="#fff"/>
<polyline points="1195.1,1730.6 1201.95,1733.7 1208.8,1730" stroke-width="1.5"/>
<polyline points="1201.4,1733.7 1201.4,1808" stroke-width="1.5"/>
<polyline points="1208.8,1803.5 1226,1794.1" stroke-width="1.5"/>
<polygon points="1249.2,1761.85 1256.05,1757.5 1262.9,1761.25 1262.9,1830 1274.8,1821.85 1280.4,1825 1279.8,1831.85 1259.2,1844.35 1252.3,1843.15 1249.2,1839.75" stroke-width="2.0" fill="#fff"/>
<polyline points="1249.2,1761.85 1256.05,1764.95 1262.9,1761.25" stroke-width="1.5"/>
<polyline points="1255.5,1764.95 1255.5,1839.25" stroke-width="1.5"/>
<polyline points="1262.9,1834.75 1280.1,1825.35" stroke-width="1.5"/>
<polygon points="1303.3,1793.1 1310.15,1788.75 1317,1792.5 1317,1861.25 1328.9,1853.1 1334.5,1856.25 1333.9,1863.1 1313.3,1875.6 1306.4,1874.4 1303.3,1871" stroke-width="2.0" fill="#fff"/>
<polyline points="1303.3,1793.1 1310.15,1796.2 1317,1792.5" stroke-width="1.5"/>
<polyline points="1309.6,1796.2 1309.6,1870.5" stroke-width="1.5"/>
<polyline points="1317,1866 1334.2,1856.6" stroke-width="1.5"/>
</g>
</svg>
</body></html>
